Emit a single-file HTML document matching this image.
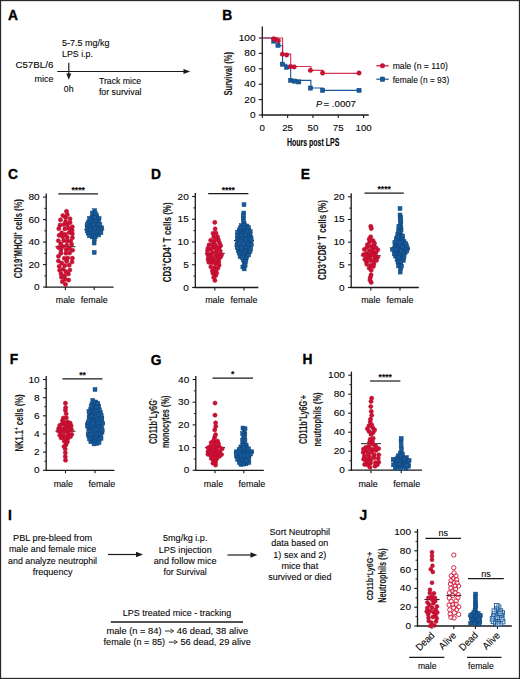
<!DOCTYPE html>
<html><head><meta charset="utf-8"><style>
html,body{margin:0;padding:0;background:#fff;}
svg{display:block;}
text{font-family:"Liberation Sans", sans-serif;stroke:#1a1a1a;stroke-width:0.1px;}
</style></head><body>
<svg width="520" height="679" viewBox="0 0 520 679">
<rect x="0.5" y="0.5" width="519" height="678" fill="none" stroke="#2a2a2a" stroke-width="1.3"/>
<text x="8.00" y="19.60" font-size="13.8" font-weight="bold" fill="#000" style="stroke:#000;stroke-width:0.35px">A</text>
<text x="62.00" y="46.00" font-size="9.2" textLength="47.5" lengthAdjust="spacingAndGlyphs">5-7.5 mg/kg</text>
<text x="62.00" y="57.30" font-size="9.2" textLength="31" lengthAdjust="spacingAndGlyphs">LPS i.p.</text>
<text x="15.40" y="68.00" font-size="9.2" textLength="38" lengthAdjust="spacingAndGlyphs">C57BL/6</text>
<text x="53.50" y="81.80" font-size="9.2" text-anchor="end" textLength="18.9" lengthAdjust="spacingAndGlyphs">mice</text>
<line x1="57.30" y1="71.50" x2="185.50" y2="71.50" stroke="#1a1a1a" stroke-width="1.2"/>
<path d="M183.5 68.9 L190.2 71.5 L183.5 74.1 Z" fill="#1a1a1a"/>
<line x1="68.80" y1="62.70" x2="68.80" y2="75.00" stroke="#1a1a1a" stroke-width="1.2"/>
<path d="M66.3 73.5 L71.3 73.5 L68.8 79.7 Z" fill="#1a1a1a"/>
<text x="63.80" y="91.60" font-size="8.8" textLength="9.7" lengthAdjust="spacingAndGlyphs">0h</text>
<text x="98.90" y="83.60" font-size="9.2" textLength="42.3" lengthAdjust="spacingAndGlyphs">Track mice</text>
<text x="98.90" y="95.10" font-size="9.2" textLength="42.6" lengthAdjust="spacingAndGlyphs">for survival</text>
<text x="222.20" y="20.00" font-size="13.8" font-weight="bold" fill="#000" style="stroke:#000;stroke-width:0.35px">B</text>
<line x1="262.30" y1="26.60" x2="262.30" y2="115.60" stroke="#1a1a1a" stroke-width="1.3"/>
<line x1="261.70" y1="115.00" x2="368.70" y2="115.00" stroke="#1a1a1a" stroke-width="1.3"/>
<line x1="258.80" y1="115.00" x2="262.30" y2="115.00" stroke="#1a1a1a" stroke-width="1.1"/>
<text x="255.50" y="118.00" font-size="8.6" text-anchor="end" textLength="5.6" lengthAdjust="spacingAndGlyphs">0</text>
<line x1="258.80" y1="99.60" x2="262.30" y2="99.60" stroke="#1a1a1a" stroke-width="1.1"/>
<text x="255.50" y="102.60" font-size="8.6" text-anchor="end" textLength="11.2" lengthAdjust="spacingAndGlyphs">20</text>
<line x1="258.80" y1="84.20" x2="262.30" y2="84.20" stroke="#1a1a1a" stroke-width="1.1"/>
<text x="255.50" y="87.20" font-size="8.6" text-anchor="end" textLength="11.2" lengthAdjust="spacingAndGlyphs">40</text>
<line x1="258.80" y1="68.80" x2="262.30" y2="68.80" stroke="#1a1a1a" stroke-width="1.1"/>
<text x="255.50" y="71.80" font-size="8.6" text-anchor="end" textLength="11.2" lengthAdjust="spacingAndGlyphs">60</text>
<line x1="258.80" y1="53.40" x2="262.30" y2="53.40" stroke="#1a1a1a" stroke-width="1.1"/>
<text x="255.50" y="56.40" font-size="8.6" text-anchor="end" textLength="11.2" lengthAdjust="spacingAndGlyphs">80</text>
<line x1="258.80" y1="38.00" x2="262.30" y2="38.00" stroke="#1a1a1a" stroke-width="1.1"/>
<text x="255.50" y="41.00" font-size="8.6" text-anchor="end" textLength="16.799999999999997" lengthAdjust="spacingAndGlyphs">100</text>
<line x1="262.30" y1="115.00" x2="262.30" y2="118.00" stroke="#1a1a1a" stroke-width="1.1"/>
<text x="262.30" y="130.80" font-size="8.6" text-anchor="middle" textLength="5.4" lengthAdjust="spacingAndGlyphs">0</text>
<line x1="287.62" y1="115.00" x2="287.62" y2="118.00" stroke="#1a1a1a" stroke-width="1.1"/>
<text x="287.62" y="130.80" font-size="8.6" text-anchor="middle" textLength="10.8" lengthAdjust="spacingAndGlyphs">25</text>
<line x1="312.95" y1="115.00" x2="312.95" y2="118.00" stroke="#1a1a1a" stroke-width="1.1"/>
<text x="312.95" y="130.80" font-size="8.6" text-anchor="middle" textLength="10.8" lengthAdjust="spacingAndGlyphs">50</text>
<line x1="338.27" y1="115.00" x2="338.27" y2="118.00" stroke="#1a1a1a" stroke-width="1.1"/>
<text x="338.27" y="130.80" font-size="8.6" text-anchor="middle" textLength="10.8" lengthAdjust="spacingAndGlyphs">75</text>
<line x1="363.60" y1="115.00" x2="363.60" y2="118.00" stroke="#1a1a1a" stroke-width="1.1"/>
<text x="363.60" y="130.80" font-size="8.6" text-anchor="middle" textLength="16.200000000000003" lengthAdjust="spacingAndGlyphs">100</text>
<text x="231.60" y="73.80" font-size="11.0" font-weight="bold" text-anchor="middle" textLength="43.5" lengthAdjust="spacingAndGlyphs" transform="rotate(-90 231.60 73.80)" fill="#1a1a1a"><tspan>Survival (%)</tspan></text>
<text x="313.10" y="146.20" font-size="10.0" text-anchor="middle" font-weight="bold" textLength="52.4" lengthAdjust="spacingAndGlyphs">Hours post LPS</text>
<text x="316.00" y="106.90" font-size="9.2" font-style="italic">P</text>
<text x="323.50" y="106.90" font-size="9.2" textLength="32.5" lengthAdjust="spacingAndGlyphs">= .0007</text>
<path d="M262.30 38.00 H274.46 V41.08 H278.51 V45.70 H282.56 V64.18 H286.61 V68.03 H290.66 V80.35 H310.92 V88.05 H323.08 V90.36 H359.55 V90.36" fill="none" stroke="#17599A" stroke-width="1.1"/>
<path d="M262.30 38.00 H282.56 V54.17 H290.66 V66.49 H310.92 V70.34 H323.08 V73.42 H359.55 V73.42" fill="none" stroke="#CF1034" stroke-width="1.1" opacity="0.85"/>
<rect x="271.65" y="38.98" width="4.20" height="4.20" fill="#17599A" stroke="#0F4579" stroke-width="0.5"/>
<rect x="275.90" y="43.21" width="4.20" height="4.20" fill="#17599A" stroke="#0F4579" stroke-width="0.5"/>
<rect x="280.26" y="62.08" width="4.20" height="4.20" fill="#17599A" stroke="#0F4579" stroke-width="0.5"/>
<rect x="284.41" y="65.16" width="4.20" height="4.20" fill="#17599A" stroke="#0F4579" stroke-width="0.5"/>
<rect x="288.46" y="78.25" width="4.20" height="4.20" fill="#17599A" stroke="#0F4579" stroke-width="0.5"/>
<rect x="292.51" y="79.02" width="4.20" height="4.20" fill="#17599A" stroke="#0F4579" stroke-width="0.5"/>
<rect x="296.67" y="79.79" width="4.20" height="4.20" fill="#17599A" stroke="#0F4579" stroke-width="0.5"/>
<rect x="308.32" y="85.95" width="4.20" height="4.20" fill="#17599A" stroke="#0F4579" stroke-width="0.5"/>
<rect x="320.47" y="88.26" width="4.20" height="4.20" fill="#17599A" stroke="#0F4579" stroke-width="0.5"/>
<rect x="356.94" y="88.26" width="4.20" height="4.20" fill="#17599A" stroke="#0F4579" stroke-width="0.5"/>
<circle cx="273.75" cy="38.77" r="2.20" fill="#CF1034" stroke="#AE0C2B" stroke-width="0.5"/>
<circle cx="276.08" cy="39.54" r="2.20" fill="#CF1034" stroke="#AE0C2B" stroke-width="0.5"/>
<circle cx="278.41" cy="40.69" r="2.20" fill="#CF1034" stroke="#AE0C2B" stroke-width="0.5"/>
<circle cx="282.36" cy="54.17" r="2.20" fill="#CF1034" stroke="#AE0C2B" stroke-width="0.5"/>
<circle cx="286.61" cy="54.94" r="2.20" fill="#CF1034" stroke="#AE0C2B" stroke-width="0.5"/>
<circle cx="290.56" cy="66.49" r="2.20" fill="#CF1034" stroke="#AE0C2B" stroke-width="0.5"/>
<circle cx="294.21" cy="66.88" r="2.20" fill="#CF1034" stroke="#AE0C2B" stroke-width="0.5"/>
<circle cx="310.42" cy="70.34" r="2.20" fill="#CF1034" stroke="#AE0C2B" stroke-width="0.5"/>
<circle cx="322.57" cy="73.03" r="2.20" fill="#CF1034" stroke="#AE0C2B" stroke-width="0.5"/>
<circle cx="359.04" cy="73.03" r="2.20" fill="#CF1034" stroke="#AE0C2B" stroke-width="0.5"/>
<line x1="376.30" y1="65.80" x2="388.80" y2="65.80" stroke="#CF1034" stroke-width="1.2"/>
<circle cx="382.50" cy="65.80" r="2.30" fill="#CF1034" stroke="#AE0C2B" stroke-width="0.5"/>
<line x1="376.30" y1="79.20" x2="388.80" y2="79.20" stroke="#17599A" stroke-width="1.2"/>
<rect x="380.30" y="77.00" width="4.40" height="4.40" fill="#17599A" stroke="#0F4579" stroke-width="0.5"/>
<text x="392.70" y="69.20" font-size="9.2" textLength="55.2" lengthAdjust="spacingAndGlyphs">male (n = 110)</text>
<text x="392.70" y="82.60" font-size="9.2" textLength="56.5" lengthAdjust="spacingAndGlyphs">female (n = 93)</text>
<text x="8.00" y="179.10" font-size="13.8" font-weight="bold" fill="#000" style="stroke:#000;stroke-width:0.35px">C</text>
<line x1="46.20" y1="193.60" x2="46.20" y2="287.70" stroke="#1a1a1a" stroke-width="1.3"/>
<line x1="45.60" y1="287.10" x2="113.60" y2="287.10" stroke="#1a1a1a" stroke-width="1.3"/>
<line x1="43.00" y1="287.10" x2="46.20" y2="287.10" stroke="#1a1a1a" stroke-width="1.1"/>
<text x="39.70" y="290.10" font-size="8.6" text-anchor="end" textLength="5.6" lengthAdjust="spacingAndGlyphs">0</text>
<line x1="43.00" y1="264.60" x2="46.20" y2="264.60" stroke="#1a1a1a" stroke-width="1.1"/>
<text x="39.70" y="267.60" font-size="8.6" text-anchor="end" textLength="11.2" lengthAdjust="spacingAndGlyphs">20</text>
<line x1="43.00" y1="242.10" x2="46.20" y2="242.10" stroke="#1a1a1a" stroke-width="1.1"/>
<text x="39.70" y="245.10" font-size="8.6" text-anchor="end" textLength="11.2" lengthAdjust="spacingAndGlyphs">40</text>
<line x1="43.00" y1="219.60" x2="46.20" y2="219.60" stroke="#1a1a1a" stroke-width="1.1"/>
<text x="39.70" y="222.60" font-size="8.6" text-anchor="end" textLength="11.2" lengthAdjust="spacingAndGlyphs">60</text>
<line x1="43.00" y1="197.10" x2="46.20" y2="197.10" stroke="#1a1a1a" stroke-width="1.1"/>
<text x="39.70" y="200.10" font-size="8.6" text-anchor="end" textLength="11.2" lengthAdjust="spacingAndGlyphs">80</text>
<line x1="44.20" y1="275.85" x2="46.20" y2="275.85" stroke="#1a1a1a" stroke-width="0.9"/>
<line x1="44.20" y1="253.35" x2="46.20" y2="253.35" stroke="#1a1a1a" stroke-width="0.9"/>
<line x1="44.20" y1="230.85" x2="46.20" y2="230.85" stroke="#1a1a1a" stroke-width="0.9"/>
<line x1="44.20" y1="208.35" x2="46.20" y2="208.35" stroke="#1a1a1a" stroke-width="0.9"/>
<line x1="65.40" y1="287.10" x2="65.40" y2="290.10" stroke="#1a1a1a" stroke-width="1.1"/>
<line x1="94.20" y1="287.10" x2="94.20" y2="290.10" stroke="#1a1a1a" stroke-width="1.1"/>
<line x1="55.40" y1="246.60" x2="75.40" y2="246.60" stroke="#444" stroke-width="1.2"/>
<line x1="84.20" y1="229.73" x2="104.20" y2="229.73" stroke="#222" stroke-width="1.2"/>
<circle cx="71.57" cy="244.36" r="2.10" fill="#CF1034" stroke="#AE0C2B" stroke-width="0.5"/>
<circle cx="66.67" cy="245.33" r="2.10" fill="#CF1034" stroke="#AE0C2B" stroke-width="0.5"/>
<circle cx="67.30" cy="224.78" r="2.10" fill="#CF1034" stroke="#AE0C2B" stroke-width="0.5"/>
<circle cx="63.09" cy="269.26" r="2.10" fill="#CF1034" stroke="#AE0C2B" stroke-width="0.5"/>
<circle cx="72.01" cy="261.98" r="2.10" fill="#CF1034" stroke="#AE0C2B" stroke-width="0.5"/>
<circle cx="58.47" cy="256.29" r="2.10" fill="#CF1034" stroke="#AE0C2B" stroke-width="0.5"/>
<circle cx="60.93" cy="249.91" r="2.10" fill="#CF1034" stroke="#AE0C2B" stroke-width="0.5"/>
<circle cx="64.87" cy="228.97" r="2.10" fill="#CF1034" stroke="#AE0C2B" stroke-width="0.5"/>
<circle cx="67.71" cy="258.10" r="2.10" fill="#CF1034" stroke="#AE0C2B" stroke-width="0.5"/>
<circle cx="61.77" cy="263.03" r="2.10" fill="#CF1034" stroke="#AE0C2B" stroke-width="0.5"/>
<circle cx="69.29" cy="232.41" r="2.10" fill="#CF1034" stroke="#AE0C2B" stroke-width="0.5"/>
<circle cx="63.74" cy="240.55" r="2.10" fill="#CF1034" stroke="#AE0C2B" stroke-width="0.5"/>
<circle cx="66.48" cy="211.31" r="2.10" fill="#CF1034" stroke="#AE0C2B" stroke-width="0.5"/>
<circle cx="60.50" cy="219.90" r="2.10" fill="#CF1034" stroke="#AE0C2B" stroke-width="0.5"/>
<circle cx="60.01" cy="225.22" r="2.10" fill="#CF1034" stroke="#AE0C2B" stroke-width="0.5"/>
<circle cx="64.27" cy="258.35" r="2.10" fill="#CF1034" stroke="#AE0C2B" stroke-width="0.5"/>
<circle cx="72.28" cy="226.84" r="2.10" fill="#CF1034" stroke="#AE0C2B" stroke-width="0.5"/>
<circle cx="69.85" cy="270.02" r="2.10" fill="#CF1034" stroke="#AE0C2B" stroke-width="0.5"/>
<circle cx="72.37" cy="258.21" r="2.10" fill="#CF1034" stroke="#AE0C2B" stroke-width="0.5"/>
<circle cx="59.17" cy="235.33" r="2.10" fill="#CF1034" stroke="#AE0C2B" stroke-width="0.5"/>
<circle cx="60.85" cy="253.29" r="2.10" fill="#CF1034" stroke="#AE0C2B" stroke-width="0.5"/>
<circle cx="70.04" cy="222.55" r="2.10" fill="#CF1034" stroke="#AE0C2B" stroke-width="0.5"/>
<circle cx="68.70" cy="280.04" r="2.10" fill="#CF1034" stroke="#AE0C2B" stroke-width="0.5"/>
<circle cx="64.65" cy="275.79" r="2.10" fill="#CF1034" stroke="#AE0C2B" stroke-width="0.5"/>
<circle cx="70.01" cy="218.87" r="2.10" fill="#CF1034" stroke="#AE0C2B" stroke-width="0.5"/>
<circle cx="60.69" cy="243.87" r="2.10" fill="#CF1034" stroke="#AE0C2B" stroke-width="0.5"/>
<circle cx="72.42" cy="237.76" r="2.10" fill="#CF1034" stroke="#AE0C2B" stroke-width="0.5"/>
<circle cx="62.77" cy="246.54" r="2.10" fill="#CF1034" stroke="#AE0C2B" stroke-width="0.5"/>
<circle cx="65.52" cy="284.35" r="2.10" fill="#CF1034" stroke="#AE0C2B" stroke-width="0.5"/>
<circle cx="69.17" cy="265.17" r="2.10" fill="#CF1034" stroke="#AE0C2B" stroke-width="0.5"/>
<circle cx="65.35" cy="234.42" r="2.10" fill="#CF1034" stroke="#AE0C2B" stroke-width="0.5"/>
<circle cx="69.59" cy="253.00" r="2.10" fill="#CF1034" stroke="#AE0C2B" stroke-width="0.5"/>
<circle cx="58.79" cy="228.64" r="2.10" fill="#CF1034" stroke="#AE0C2B" stroke-width="0.5"/>
<circle cx="61.03" cy="273.85" r="2.10" fill="#CF1034" stroke="#AE0C2B" stroke-width="0.5"/>
<circle cx="65.64" cy="221.55" r="2.10" fill="#CF1034" stroke="#AE0C2B" stroke-width="0.5"/>
<circle cx="65.59" cy="217.57" r="2.10" fill="#CF1034" stroke="#AE0C2B" stroke-width="0.5"/>
<circle cx="66.27" cy="249.50" r="2.10" fill="#CF1034" stroke="#AE0C2B" stroke-width="0.5"/>
<circle cx="65.92" cy="253.17" r="2.10" fill="#CF1034" stroke="#AE0C2B" stroke-width="0.5"/>
<circle cx="58.36" cy="240.73" r="2.10" fill="#CF1034" stroke="#AE0C2B" stroke-width="0.5"/>
<circle cx="67.21" cy="237.28" r="2.10" fill="#CF1034" stroke="#AE0C2B" stroke-width="0.5"/>
<circle cx="72.61" cy="250.26" r="2.10" fill="#CF1034" stroke="#AE0C2B" stroke-width="0.5"/>
<circle cx="65.18" cy="279.29" r="2.10" fill="#CF1034" stroke="#AE0C2B" stroke-width="0.5"/>
<circle cx="61.68" cy="232.92" r="2.10" fill="#CF1034" stroke="#AE0C2B" stroke-width="0.5"/>
<circle cx="66.67" cy="261.37" r="2.10" fill="#CF1034" stroke="#AE0C2B" stroke-width="0.5"/>
<circle cx="68.41" cy="273.97" r="2.10" fill="#CF1034" stroke="#AE0C2B" stroke-width="0.5"/>
<circle cx="65.88" cy="271.70" r="2.10" fill="#CF1034" stroke="#AE0C2B" stroke-width="0.5"/>
<circle cx="67.32" cy="214.63" r="2.10" fill="#CF1034" stroke="#AE0C2B" stroke-width="0.5"/>
<circle cx="63.84" cy="224.59" r="2.10" fill="#CF1034" stroke="#AE0C2B" stroke-width="0.5"/>
<circle cx="72.36" cy="233.84" r="2.10" fill="#CF1034" stroke="#AE0C2B" stroke-width="0.5"/>
<circle cx="58.43" cy="261.01" r="2.10" fill="#CF1034" stroke="#AE0C2B" stroke-width="0.5"/>
<circle cx="67.32" cy="241.13" r="2.10" fill="#CF1034" stroke="#AE0C2B" stroke-width="0.5"/>
<circle cx="64.74" cy="265.63" r="2.10" fill="#CF1034" stroke="#AE0C2B" stroke-width="0.5"/>
<circle cx="70.71" cy="241.00" r="2.10" fill="#CF1034" stroke="#AE0C2B" stroke-width="0.5"/>
<circle cx="62.36" cy="281.75" r="2.10" fill="#CF1034" stroke="#AE0C2B" stroke-width="0.5"/>
<circle cx="59.20" cy="266.32" r="2.10" fill="#CF1034" stroke="#AE0C2B" stroke-width="0.5"/>
<circle cx="69.62" cy="248.70" r="2.10" fill="#CF1034" stroke="#AE0C2B" stroke-width="0.5"/>
<circle cx="68.65" cy="228.27" r="2.10" fill="#CF1034" stroke="#AE0C2B" stroke-width="0.5"/>
<circle cx="62.89" cy="215.54" r="2.10" fill="#CF1034" stroke="#AE0C2B" stroke-width="0.5"/>
<circle cx="62.66" cy="236.84" r="2.10" fill="#CF1034" stroke="#AE0C2B" stroke-width="0.5"/>
<circle cx="58.45" cy="247.49" r="2.10" fill="#CF1034" stroke="#AE0C2B" stroke-width="0.5"/>
<circle cx="59.73" cy="270.34" r="2.10" fill="#CF1034" stroke="#AE0C2B" stroke-width="0.5"/>
<circle cx="61.46" cy="277.28" r="2.10" fill="#CF1034" stroke="#AE0C2B" stroke-width="0.5"/>
<circle cx="72.08" cy="230.22" r="2.10" fill="#CF1034" stroke="#AE0C2B" stroke-width="0.5"/>
<rect x="92.25" y="250.50" width="3.90" height="3.90" fill="#17599A" stroke="#0F4579" stroke-width="0.5"/>
<rect x="94.77" y="224.64" width="3.90" height="3.90" fill="#17599A" stroke="#0F4579" stroke-width="0.5"/>
<rect x="91.51" y="213.06" width="3.90" height="3.90" fill="#17599A" stroke="#0F4579" stroke-width="0.5"/>
<rect x="92.95" y="232.17" width="3.90" height="3.90" fill="#17599A" stroke="#0F4579" stroke-width="0.5"/>
<rect x="96.60" y="219.84" width="3.90" height="3.90" fill="#17599A" stroke="#0F4579" stroke-width="0.5"/>
<rect x="92.70" y="208.74" width="3.90" height="3.90" fill="#17599A" stroke="#0F4579" stroke-width="0.5"/>
<rect x="99.80" y="225.84" width="3.90" height="3.90" fill="#17599A" stroke="#0F4579" stroke-width="0.5"/>
<rect x="92.18" y="241.10" width="3.90" height="3.90" fill="#17599A" stroke="#0F4579" stroke-width="0.5"/>
<rect x="93.58" y="222.06" width="3.90" height="3.90" fill="#17599A" stroke="#0F4579" stroke-width="0.5"/>
<rect x="85.12" y="224.71" width="3.90" height="3.90" fill="#17599A" stroke="#0F4579" stroke-width="0.5"/>
<rect x="88.83" y="231.59" width="3.90" height="3.90" fill="#17599A" stroke="#0F4579" stroke-width="0.5"/>
<rect x="97.28" y="225.53" width="3.90" height="3.90" fill="#17599A" stroke="#0F4579" stroke-width="0.5"/>
<rect x="88.26" y="223.09" width="3.90" height="3.90" fill="#17599A" stroke="#0F4579" stroke-width="0.5"/>
<rect x="86.50" y="220.09" width="3.90" height="3.90" fill="#17599A" stroke="#0F4579" stroke-width="0.5"/>
<rect x="91.96" y="224.70" width="3.90" height="3.90" fill="#17599A" stroke="#0F4579" stroke-width="0.5"/>
<rect x="90.27" y="234.96" width="3.90" height="3.90" fill="#17599A" stroke="#0F4579" stroke-width="0.5"/>
<rect x="89.49" y="225.65" width="3.90" height="3.90" fill="#17599A" stroke="#0F4579" stroke-width="0.5"/>
<rect x="94.76" y="213.74" width="3.90" height="3.90" fill="#17599A" stroke="#0F4579" stroke-width="0.5"/>
<rect x="90.05" y="215.55" width="3.90" height="3.90" fill="#17599A" stroke="#0F4579" stroke-width="0.5"/>
<rect x="97.13" y="216.50" width="3.90" height="3.90" fill="#17599A" stroke="#0F4579" stroke-width="0.5"/>
<rect x="98.49" y="227.62" width="3.90" height="3.90" fill="#17599A" stroke="#0F4579" stroke-width="0.5"/>
<rect x="97.92" y="222.65" width="3.90" height="3.90" fill="#17599A" stroke="#0F4579" stroke-width="0.5"/>
<rect x="95.36" y="227.73" width="3.90" height="3.90" fill="#17599A" stroke="#0F4579" stroke-width="0.5"/>
<rect x="90.04" y="219.99" width="3.90" height="3.90" fill="#17599A" stroke="#0F4579" stroke-width="0.5"/>
<rect x="91.46" y="217.84" width="3.90" height="3.90" fill="#17599A" stroke="#0F4579" stroke-width="0.5"/>
<rect x="92.42" y="237.09" width="3.90" height="3.90" fill="#17599A" stroke="#0F4579" stroke-width="0.5"/>
<rect x="93.67" y="234.64" width="3.90" height="3.90" fill="#17599A" stroke="#0F4579" stroke-width="0.5"/>
<rect x="88.46" y="218.43" width="3.90" height="3.90" fill="#17599A" stroke="#0F4579" stroke-width="0.5"/>
<rect x="92.67" y="226.79" width="3.90" height="3.90" fill="#17599A" stroke="#0F4579" stroke-width="0.5"/>
<rect x="94.12" y="230.25" width="3.90" height="3.90" fill="#17599A" stroke="#0F4579" stroke-width="0.5"/>
<rect x="96.79" y="233.02" width="3.90" height="3.90" fill="#17599A" stroke="#0F4579" stroke-width="0.5"/>
<rect x="90.51" y="211.03" width="3.90" height="3.90" fill="#17599A" stroke="#0F4579" stroke-width="0.5"/>
<rect x="94.20" y="216.79" width="3.90" height="3.90" fill="#17599A" stroke="#0F4579" stroke-width="0.5"/>
<rect x="85.25" y="229.02" width="3.90" height="3.90" fill="#17599A" stroke="#0F4579" stroke-width="0.5"/>
<rect x="87.16" y="225.61" width="3.90" height="3.90" fill="#17599A" stroke="#0F4579" stroke-width="0.5"/>
<rect x="93.54" y="211.62" width="3.90" height="3.90" fill="#17599A" stroke="#0F4579" stroke-width="0.5"/>
<rect x="90.20" y="229.58" width="3.90" height="3.90" fill="#17599A" stroke="#0F4579" stroke-width="0.5"/>
<rect x="97.03" y="229.62" width="3.90" height="3.90" fill="#17599A" stroke="#0F4579" stroke-width="0.5"/>
<rect x="86.22" y="231.44" width="3.90" height="3.90" fill="#17599A" stroke="#0F4579" stroke-width="0.5"/>
<rect x="93.25" y="219.51" width="3.90" height="3.90" fill="#17599A" stroke="#0F4579" stroke-width="0.5"/>
<rect x="88.36" y="227.66" width="3.90" height="3.90" fill="#17599A" stroke="#0F4579" stroke-width="0.5"/>
<rect x="91.35" y="222.40" width="3.90" height="3.90" fill="#17599A" stroke="#0F4579" stroke-width="0.5"/>
<rect x="85.35" y="222.18" width="3.90" height="3.90" fill="#17599A" stroke="#0F4579" stroke-width="0.5"/>
<rect x="87.56" y="233.86" width="3.90" height="3.90" fill="#17599A" stroke="#0F4579" stroke-width="0.5"/>
<rect x="99.01" y="230.81" width="3.90" height="3.90" fill="#17599A" stroke="#0F4579" stroke-width="0.5"/>
<rect x="87.63" y="216.38" width="3.90" height="3.90" fill="#17599A" stroke="#0F4579" stroke-width="0.5"/>
<rect x="92.62" y="215.24" width="3.90" height="3.90" fill="#17599A" stroke="#0F4579" stroke-width="0.5"/>
<text x="65.40" y="303.00" font-size="9.2" text-anchor="middle" textLength="19.3" lengthAdjust="spacingAndGlyphs">male</text>
<text x="94.20" y="303.00" font-size="9.2" text-anchor="middle" textLength="26.8" lengthAdjust="spacingAndGlyphs">female</text>
<line x1="58.30" y1="193.80" x2="98.00" y2="193.80" stroke="#1a1a1a" stroke-width="1.2"/>
<text x="78.15" y="193.00" font-size="8.5" text-anchor="middle" font-weight="bold">****</text>
<text x="21.60" y="238.70" font-size="11.0" font-weight="bold" text-anchor="middle" textLength="79" lengthAdjust="spacingAndGlyphs" transform="rotate(-90 21.60 238.70)" fill="#1a1a1a"><tspan>CD19</tspan><tspan font-size="6.60" dy="-3.96">+</tspan><tspan dy="3.96">MHCII</tspan><tspan font-size="6.60" dy="-3.96">+</tspan><tspan dy="3.96"> cells (%)</tspan></text>
<text x="151.00" y="178.90" font-size="13.8" font-weight="bold" fill="#000" style="stroke:#000;stroke-width:0.35px">D</text>
<line x1="195.30" y1="193.00" x2="195.30" y2="288.10" stroke="#1a1a1a" stroke-width="1.3"/>
<line x1="194.70" y1="287.50" x2="258.30" y2="287.50" stroke="#1a1a1a" stroke-width="1.3"/>
<line x1="192.10" y1="287.50" x2="195.30" y2="287.50" stroke="#1a1a1a" stroke-width="1.1"/>
<text x="188.80" y="290.50" font-size="8.6" text-anchor="end" textLength="5.6" lengthAdjust="spacingAndGlyphs">0</text>
<line x1="192.10" y1="264.75" x2="195.30" y2="264.75" stroke="#1a1a1a" stroke-width="1.1"/>
<text x="188.80" y="267.75" font-size="8.6" text-anchor="end" textLength="5.6" lengthAdjust="spacingAndGlyphs">5</text>
<line x1="192.10" y1="242.00" x2="195.30" y2="242.00" stroke="#1a1a1a" stroke-width="1.1"/>
<text x="188.80" y="245.00" font-size="8.6" text-anchor="end" textLength="11.2" lengthAdjust="spacingAndGlyphs">10</text>
<line x1="192.10" y1="219.25" x2="195.30" y2="219.25" stroke="#1a1a1a" stroke-width="1.1"/>
<text x="188.80" y="222.25" font-size="8.6" text-anchor="end" textLength="11.2" lengthAdjust="spacingAndGlyphs">15</text>
<line x1="192.10" y1="196.50" x2="195.30" y2="196.50" stroke="#1a1a1a" stroke-width="1.1"/>
<text x="188.80" y="199.50" font-size="8.6" text-anchor="end" textLength="11.2" lengthAdjust="spacingAndGlyphs">20</text>
<line x1="193.30" y1="276.12" x2="195.30" y2="276.12" stroke="#1a1a1a" stroke-width="0.9"/>
<line x1="193.30" y1="253.38" x2="195.30" y2="253.38" stroke="#1a1a1a" stroke-width="0.9"/>
<line x1="193.30" y1="230.62" x2="195.30" y2="230.62" stroke="#1a1a1a" stroke-width="0.9"/>
<line x1="193.30" y1="207.88" x2="195.30" y2="207.88" stroke="#1a1a1a" stroke-width="0.9"/>
<line x1="214.80" y1="287.50" x2="214.80" y2="290.50" stroke="#1a1a1a" stroke-width="1.1"/>
<line x1="244.00" y1="287.50" x2="244.00" y2="290.50" stroke="#1a1a1a" stroke-width="1.1"/>
<line x1="204.80" y1="253.38" x2="224.80" y2="253.38" stroke="#444" stroke-width="1.2"/>
<line x1="234.00" y1="240.63" x2="254.00" y2="240.63" stroke="#222" stroke-width="1.2"/>
<circle cx="214.80" cy="222.44" r="2.10" fill="#CF1034" stroke="#AE0C2B" stroke-width="0.5"/>
<circle cx="211.45" cy="262.69" r="2.10" fill="#CF1034" stroke="#AE0C2B" stroke-width="0.5"/>
<circle cx="210.87" cy="255.89" r="2.10" fill="#CF1034" stroke="#AE0C2B" stroke-width="0.5"/>
<circle cx="218.74" cy="259.93" r="2.10" fill="#CF1034" stroke="#AE0C2B" stroke-width="0.5"/>
<circle cx="210.69" cy="240.33" r="2.10" fill="#CF1034" stroke="#AE0C2B" stroke-width="0.5"/>
<circle cx="221.59" cy="255.06" r="2.10" fill="#CF1034" stroke="#AE0C2B" stroke-width="0.5"/>
<circle cx="219.13" cy="247.89" r="2.10" fill="#CF1034" stroke="#AE0C2B" stroke-width="0.5"/>
<circle cx="212.38" cy="252.59" r="2.10" fill="#CF1034" stroke="#AE0C2B" stroke-width="0.5"/>
<circle cx="207.80" cy="254.35" r="2.10" fill="#CF1034" stroke="#AE0C2B" stroke-width="0.5"/>
<circle cx="215.70" cy="275.51" r="2.10" fill="#CF1034" stroke="#AE0C2B" stroke-width="0.5"/>
<circle cx="214.62" cy="267.95" r="2.10" fill="#CF1034" stroke="#AE0C2B" stroke-width="0.5"/>
<circle cx="213.26" cy="247.71" r="2.10" fill="#CF1034" stroke="#AE0C2B" stroke-width="0.5"/>
<circle cx="215.11" cy="228.93" r="2.10" fill="#CF1034" stroke="#AE0C2B" stroke-width="0.5"/>
<circle cx="218.54" cy="254.73" r="2.10" fill="#CF1034" stroke="#AE0C2B" stroke-width="0.5"/>
<circle cx="217.58" cy="236.88" r="2.10" fill="#CF1034" stroke="#AE0C2B" stroke-width="0.5"/>
<circle cx="215.99" cy="233.17" r="2.10" fill="#CF1034" stroke="#AE0C2B" stroke-width="0.5"/>
<circle cx="215.81" cy="270.57" r="2.10" fill="#CF1034" stroke="#AE0C2B" stroke-width="0.5"/>
<circle cx="214.01" cy="241.76" r="2.10" fill="#CF1034" stroke="#AE0C2B" stroke-width="0.5"/>
<circle cx="213.74" cy="236.91" r="2.10" fill="#CF1034" stroke="#AE0C2B" stroke-width="0.5"/>
<circle cx="220.25" cy="251.09" r="2.10" fill="#CF1034" stroke="#AE0C2B" stroke-width="0.5"/>
<circle cx="212.21" cy="244.54" r="2.10" fill="#CF1034" stroke="#AE0C2B" stroke-width="0.5"/>
<circle cx="214.94" cy="280.40" r="2.10" fill="#CF1034" stroke="#AE0C2B" stroke-width="0.5"/>
<circle cx="213.53" cy="259.88" r="2.10" fill="#CF1034" stroke="#AE0C2B" stroke-width="0.5"/>
<circle cx="215.23" cy="263.82" r="2.10" fill="#CF1034" stroke="#AE0C2B" stroke-width="0.5"/>
<circle cx="210.83" cy="266.85" r="2.10" fill="#CF1034" stroke="#AE0C2B" stroke-width="0.5"/>
<circle cx="215.10" cy="244.66" r="2.10" fill="#CF1034" stroke="#AE0C2B" stroke-width="0.5"/>
<circle cx="213.10" cy="233.41" r="2.10" fill="#CF1034" stroke="#AE0C2B" stroke-width="0.5"/>
<circle cx="210.86" cy="249.06" r="2.10" fill="#CF1034" stroke="#AE0C2B" stroke-width="0.5"/>
<circle cx="219.00" cy="265.35" r="2.10" fill="#CF1034" stroke="#AE0C2B" stroke-width="0.5"/>
<circle cx="219.43" cy="242.84" r="2.10" fill="#CF1034" stroke="#AE0C2B" stroke-width="0.5"/>
<circle cx="217.60" cy="257.34" r="2.10" fill="#CF1034" stroke="#AE0C2B" stroke-width="0.5"/>
<circle cx="212.97" cy="273.36" r="2.10" fill="#CF1034" stroke="#AE0C2B" stroke-width="0.5"/>
<circle cx="216.48" cy="246.99" r="2.10" fill="#CF1034" stroke="#AE0C2B" stroke-width="0.5"/>
<circle cx="215.01" cy="256.47" r="2.10" fill="#CF1034" stroke="#AE0C2B" stroke-width="0.5"/>
<circle cx="207.90" cy="248.36" r="2.10" fill="#CF1034" stroke="#AE0C2B" stroke-width="0.5"/>
<circle cx="218.72" cy="262.62" r="2.10" fill="#CF1034" stroke="#AE0C2B" stroke-width="0.5"/>
<circle cx="216.13" cy="252.69" r="2.10" fill="#CF1034" stroke="#AE0C2B" stroke-width="0.5"/>
<circle cx="207.51" cy="251.06" r="2.10" fill="#CF1034" stroke="#AE0C2B" stroke-width="0.5"/>
<circle cx="220.63" cy="245.63" r="2.10" fill="#CF1034" stroke="#AE0C2B" stroke-width="0.5"/>
<circle cx="218.39" cy="239.93" r="2.10" fill="#CF1034" stroke="#AE0C2B" stroke-width="0.5"/>
<circle cx="209.01" cy="244.90" r="2.10" fill="#CF1034" stroke="#AE0C2B" stroke-width="0.5"/>
<circle cx="220.30" cy="257.36" r="2.10" fill="#CF1034" stroke="#AE0C2B" stroke-width="0.5"/>
<circle cx="208.12" cy="259.65" r="2.10" fill="#CF1034" stroke="#AE0C2B" stroke-width="0.5"/>
<circle cx="213.69" cy="277.42" r="2.10" fill="#CF1034" stroke="#AE0C2B" stroke-width="0.5"/>
<circle cx="215.78" cy="239.79" r="2.10" fill="#CF1034" stroke="#AE0C2B" stroke-width="0.5"/>
<circle cx="217.95" cy="268.12" r="2.10" fill="#CF1034" stroke="#AE0C2B" stroke-width="0.5"/>
<circle cx="216.34" cy="249.64" r="2.10" fill="#CF1034" stroke="#AE0C2B" stroke-width="0.5"/>
<circle cx="210.85" cy="258.96" r="2.10" fill="#CF1034" stroke="#AE0C2B" stroke-width="0.5"/>
<circle cx="215.88" cy="261.26" r="2.10" fill="#CF1034" stroke="#AE0C2B" stroke-width="0.5"/>
<circle cx="208.79" cy="262.29" r="2.10" fill="#CF1034" stroke="#AE0C2B" stroke-width="0.5"/>
<circle cx="212.34" cy="270.72" r="2.10" fill="#CF1034" stroke="#AE0C2B" stroke-width="0.5"/>
<circle cx="208.41" cy="256.93" r="2.10" fill="#CF1034" stroke="#AE0C2B" stroke-width="0.5"/>
<circle cx="216.71" cy="273.09" r="2.10" fill="#CF1034" stroke="#AE0C2B" stroke-width="0.5"/>
<rect x="242.05" y="202.74" width="3.90" height="3.90" fill="#17599A" stroke="#0F4579" stroke-width="0.5"/>
<rect x="240.91" y="264.97" width="3.90" height="3.90" fill="#17599A" stroke="#0F4579" stroke-width="0.5"/>
<rect x="238.33" y="230.13" width="3.90" height="3.90" fill="#17599A" stroke="#0F4579" stroke-width="0.5"/>
<rect x="246.32" y="250.75" width="3.90" height="3.90" fill="#17599A" stroke="#0F4579" stroke-width="0.5"/>
<rect x="237.62" y="244.01" width="3.90" height="3.90" fill="#17599A" stroke="#0F4579" stroke-width="0.5"/>
<rect x="239.23" y="250.20" width="3.90" height="3.90" fill="#17599A" stroke="#0F4579" stroke-width="0.5"/>
<rect x="246.33" y="247.49" width="3.90" height="3.90" fill="#17599A" stroke="#0F4579" stroke-width="0.5"/>
<rect x="236.26" y="248.44" width="3.90" height="3.90" fill="#17599A" stroke="#0F4579" stroke-width="0.5"/>
<rect x="248.59" y="240.72" width="3.90" height="3.90" fill="#17599A" stroke="#0F4579" stroke-width="0.5"/>
<rect x="240.65" y="239.27" width="3.90" height="3.90" fill="#17599A" stroke="#0F4579" stroke-width="0.5"/>
<rect x="243.09" y="227.95" width="3.90" height="3.90" fill="#17599A" stroke="#0F4579" stroke-width="0.5"/>
<rect x="242.47" y="235.13" width="3.90" height="3.90" fill="#17599A" stroke="#0F4579" stroke-width="0.5"/>
<rect x="240.69" y="230.71" width="3.90" height="3.90" fill="#17599A" stroke="#0F4579" stroke-width="0.5"/>
<rect x="235.79" y="239.59" width="3.90" height="3.90" fill="#17599A" stroke="#0F4579" stroke-width="0.5"/>
<rect x="242.22" y="261.41" width="3.90" height="3.90" fill="#17599A" stroke="#0F4579" stroke-width="0.5"/>
<rect x="242.17" y="221.35" width="3.90" height="3.90" fill="#17599A" stroke="#0F4579" stroke-width="0.5"/>
<rect x="244.19" y="252.77" width="3.90" height="3.90" fill="#17599A" stroke="#0F4579" stroke-width="0.5"/>
<rect x="237.63" y="246.57" width="3.90" height="3.90" fill="#17599A" stroke="#0F4579" stroke-width="0.5"/>
<rect x="241.45" y="257.92" width="3.90" height="3.90" fill="#17599A" stroke="#0F4579" stroke-width="0.5"/>
<rect x="245.88" y="238.34" width="3.90" height="3.90" fill="#17599A" stroke="#0F4579" stroke-width="0.5"/>
<rect x="239.37" y="223.60" width="3.90" height="3.90" fill="#17599A" stroke="#0F4579" stroke-width="0.5"/>
<rect x="242.03" y="247.21" width="3.90" height="3.90" fill="#17599A" stroke="#0F4579" stroke-width="0.5"/>
<rect x="241.86" y="244.81" width="3.90" height="3.90" fill="#17599A" stroke="#0F4579" stroke-width="0.5"/>
<rect x="245.83" y="233.55" width="3.90" height="3.90" fill="#17599A" stroke="#0F4579" stroke-width="0.5"/>
<rect x="237.70" y="232.47" width="3.90" height="3.90" fill="#17599A" stroke="#0F4579" stroke-width="0.5"/>
<rect x="241.38" y="216.08" width="3.90" height="3.90" fill="#17599A" stroke="#0F4579" stroke-width="0.5"/>
<rect x="244.95" y="224.04" width="3.90" height="3.90" fill="#17599A" stroke="#0F4579" stroke-width="0.5"/>
<rect x="239.88" y="227.44" width="3.90" height="3.90" fill="#17599A" stroke="#0F4579" stroke-width="0.5"/>
<rect x="246.77" y="227.92" width="3.90" height="3.90" fill="#17599A" stroke="#0F4579" stroke-width="0.5"/>
<rect x="243.23" y="232.13" width="3.90" height="3.90" fill="#17599A" stroke="#0F4579" stroke-width="0.5"/>
<rect x="235.28" y="236.58" width="3.90" height="3.90" fill="#17599A" stroke="#0F4579" stroke-width="0.5"/>
<rect x="241.79" y="211.05" width="3.90" height="3.90" fill="#17599A" stroke="#0F4579" stroke-width="0.5"/>
<rect x="237.83" y="236.25" width="3.90" height="3.90" fill="#17599A" stroke="#0F4579" stroke-width="0.5"/>
<rect x="244.06" y="257.28" width="3.90" height="3.90" fill="#17599A" stroke="#0F4579" stroke-width="0.5"/>
<rect x="242.27" y="254.99" width="3.90" height="3.90" fill="#17599A" stroke="#0F4579" stroke-width="0.5"/>
<rect x="243.32" y="249.26" width="3.90" height="3.90" fill="#17599A" stroke="#0F4579" stroke-width="0.5"/>
<rect x="237.35" y="227.99" width="3.90" height="3.90" fill="#17599A" stroke="#0F4579" stroke-width="0.5"/>
<rect x="241.47" y="213.35" width="3.90" height="3.90" fill="#17599A" stroke="#0F4579" stroke-width="0.5"/>
<rect x="245.25" y="229.55" width="3.90" height="3.90" fill="#17599A" stroke="#0F4579" stroke-width="0.5"/>
<rect x="239.79" y="233.65" width="3.90" height="3.90" fill="#17599A" stroke="#0F4579" stroke-width="0.5"/>
<rect x="244.75" y="244.37" width="3.90" height="3.90" fill="#17599A" stroke="#0F4579" stroke-width="0.5"/>
<rect x="247.15" y="244.51" width="3.90" height="3.90" fill="#17599A" stroke="#0F4579" stroke-width="0.5"/>
<rect x="248.08" y="249.37" width="3.90" height="3.90" fill="#17599A" stroke="#0F4579" stroke-width="0.5"/>
<rect x="234.98" y="242.89" width="3.90" height="3.90" fill="#17599A" stroke="#0F4579" stroke-width="0.5"/>
<rect x="235.56" y="233.51" width="3.90" height="3.90" fill="#17599A" stroke="#0F4579" stroke-width="0.5"/>
<rect x="243.57" y="259.52" width="3.90" height="3.90" fill="#17599A" stroke="#0F4579" stroke-width="0.5"/>
<rect x="237.96" y="241.46" width="3.90" height="3.90" fill="#17599A" stroke="#0F4579" stroke-width="0.5"/>
<rect x="241.47" y="251.15" width="3.90" height="3.90" fill="#17599A" stroke="#0F4579" stroke-width="0.5"/>
<rect x="244.29" y="240.66" width="3.90" height="3.90" fill="#17599A" stroke="#0F4579" stroke-width="0.5"/>
<rect x="238.12" y="254.53" width="3.90" height="3.90" fill="#17599A" stroke="#0F4579" stroke-width="0.5"/>
<rect x="244.64" y="255.15" width="3.90" height="3.90" fill="#17599A" stroke="#0F4579" stroke-width="0.5"/>
<rect x="248.08" y="232.49" width="3.90" height="3.90" fill="#17599A" stroke="#0F4579" stroke-width="0.5"/>
<rect x="242.24" y="266.97" width="3.90" height="3.90" fill="#17599A" stroke="#0F4579" stroke-width="0.5"/>
<rect x="246.52" y="225.58" width="3.90" height="3.90" fill="#17599A" stroke="#0F4579" stroke-width="0.5"/>
<rect x="235.67" y="230.15" width="3.90" height="3.90" fill="#17599A" stroke="#0F4579" stroke-width="0.5"/>
<rect x="243.19" y="263.48" width="3.90" height="3.90" fill="#17599A" stroke="#0F4579" stroke-width="0.5"/>
<rect x="246.86" y="242.28" width="3.90" height="3.90" fill="#17599A" stroke="#0F4579" stroke-width="0.5"/>
<rect x="248.99" y="235.27" width="3.90" height="3.90" fill="#17599A" stroke="#0F4579" stroke-width="0.5"/>
<rect x="235.19" y="245.68" width="3.90" height="3.90" fill="#17599A" stroke="#0F4579" stroke-width="0.5"/>
<rect x="241.35" y="241.69" width="3.90" height="3.90" fill="#17599A" stroke="#0F4579" stroke-width="0.5"/>
<rect x="240.58" y="253.55" width="3.90" height="3.90" fill="#17599A" stroke="#0F4579" stroke-width="0.5"/>
<rect x="240.11" y="255.78" width="3.90" height="3.90" fill="#17599A" stroke="#0F4579" stroke-width="0.5"/>
<rect x="242.45" y="223.66" width="3.90" height="3.90" fill="#17599A" stroke="#0F4579" stroke-width="0.5"/>
<rect x="239.96" y="248.07" width="3.90" height="3.90" fill="#17599A" stroke="#0F4579" stroke-width="0.5"/>
<rect x="238.27" y="225.91" width="3.90" height="3.90" fill="#17599A" stroke="#0F4579" stroke-width="0.5"/>
<rect x="241.89" y="225.90" width="3.90" height="3.90" fill="#17599A" stroke="#0F4579" stroke-width="0.5"/>
<rect x="240.40" y="236.26" width="3.90" height="3.90" fill="#17599A" stroke="#0F4579" stroke-width="0.5"/>
<rect x="241.43" y="219.08" width="3.90" height="3.90" fill="#17599A" stroke="#0F4579" stroke-width="0.5"/>
<rect x="246.84" y="236.35" width="3.90" height="3.90" fill="#17599A" stroke="#0F4579" stroke-width="0.5"/>
<rect x="238.28" y="238.72" width="3.90" height="3.90" fill="#17599A" stroke="#0F4579" stroke-width="0.5"/>
<rect x="246.61" y="253.06" width="3.90" height="3.90" fill="#17599A" stroke="#0F4579" stroke-width="0.5"/>
<rect x="249.23" y="237.78" width="3.90" height="3.90" fill="#17599A" stroke="#0F4579" stroke-width="0.5"/>
<rect x="248.30" y="229.70" width="3.90" height="3.90" fill="#17599A" stroke="#0F4579" stroke-width="0.5"/>
<rect x="243.60" y="237.34" width="3.90" height="3.90" fill="#17599A" stroke="#0F4579" stroke-width="0.5"/>
<rect x="239.70" y="245.46" width="3.90" height="3.90" fill="#17599A" stroke="#0F4579" stroke-width="0.5"/>
<rect x="248.69" y="246.92" width="3.90" height="3.90" fill="#17599A" stroke="#0F4579" stroke-width="0.5"/>
<rect x="237.17" y="251.10" width="3.90" height="3.90" fill="#17599A" stroke="#0F4579" stroke-width="0.5"/>
<rect x="249.38" y="242.79" width="3.90" height="3.90" fill="#17599A" stroke="#0F4579" stroke-width="0.5"/>
<text x="214.80" y="302.80" font-size="9.2" text-anchor="middle" textLength="19.3" lengthAdjust="spacingAndGlyphs">male</text>
<text x="244.00" y="302.80" font-size="9.2" text-anchor="middle" textLength="26.8" lengthAdjust="spacingAndGlyphs">female</text>
<line x1="208.20" y1="193.60" x2="248.40" y2="193.60" stroke="#1a1a1a" stroke-width="1.2"/>
<text x="228.30" y="192.80" font-size="8.5" text-anchor="middle" font-weight="bold">****</text>
<text x="170.80" y="242.30" font-size="11.0" font-weight="bold" text-anchor="middle" textLength="80" lengthAdjust="spacingAndGlyphs" transform="rotate(-90 170.80 242.30)" fill="#1a1a1a"><tspan>CD3</tspan><tspan font-size="6.60" dy="-3.96">+</tspan><tspan dy="3.96">CD4</tspan><tspan font-size="6.60" dy="-3.96">+</tspan><tspan dy="3.96"> T cells (%)</tspan></text>
<text x="300.80" y="179.10" font-size="13.8" font-weight="bold" fill="#000" style="stroke:#000;stroke-width:0.35px">E</text>
<line x1="351.20" y1="193.30" x2="351.20" y2="288.10" stroke="#1a1a1a" stroke-width="1.3"/>
<line x1="350.60" y1="287.50" x2="418.80" y2="287.50" stroke="#1a1a1a" stroke-width="1.3"/>
<line x1="348.00" y1="287.50" x2="351.20" y2="287.50" stroke="#1a1a1a" stroke-width="1.1"/>
<text x="344.70" y="290.50" font-size="8.6" text-anchor="end" textLength="5.6" lengthAdjust="spacingAndGlyphs">0</text>
<line x1="348.00" y1="264.82" x2="351.20" y2="264.82" stroke="#1a1a1a" stroke-width="1.1"/>
<text x="344.70" y="267.82" font-size="8.6" text-anchor="end" textLength="5.6" lengthAdjust="spacingAndGlyphs">5</text>
<line x1="348.00" y1="242.15" x2="351.20" y2="242.15" stroke="#1a1a1a" stroke-width="1.1"/>
<text x="344.70" y="245.15" font-size="8.6" text-anchor="end" textLength="11.2" lengthAdjust="spacingAndGlyphs">10</text>
<line x1="348.00" y1="219.47" x2="351.20" y2="219.47" stroke="#1a1a1a" stroke-width="1.1"/>
<text x="344.70" y="222.47" font-size="8.6" text-anchor="end" textLength="11.2" lengthAdjust="spacingAndGlyphs">15</text>
<line x1="348.00" y1="196.80" x2="351.20" y2="196.80" stroke="#1a1a1a" stroke-width="1.1"/>
<text x="344.70" y="199.80" font-size="8.6" text-anchor="end" textLength="11.2" lengthAdjust="spacingAndGlyphs">20</text>
<line x1="349.20" y1="276.16" x2="351.20" y2="276.16" stroke="#1a1a1a" stroke-width="0.9"/>
<line x1="349.20" y1="253.49" x2="351.20" y2="253.49" stroke="#1a1a1a" stroke-width="0.9"/>
<line x1="349.20" y1="230.81" x2="351.20" y2="230.81" stroke="#1a1a1a" stroke-width="0.9"/>
<line x1="349.20" y1="208.14" x2="351.20" y2="208.14" stroke="#1a1a1a" stroke-width="0.9"/>
<line x1="370.80" y1="287.50" x2="370.80" y2="290.50" stroke="#1a1a1a" stroke-width="1.1"/>
<line x1="400.00" y1="287.50" x2="400.00" y2="290.50" stroke="#1a1a1a" stroke-width="1.1"/>
<line x1="360.80" y1="255.75" x2="380.80" y2="255.75" stroke="#444" stroke-width="1.2"/>
<line x1="390.00" y1="248.95" x2="410.00" y2="248.95" stroke="#222" stroke-width="1.2"/>
<circle cx="370.80" cy="226.28" r="2.10" fill="#CF1034" stroke="#AE0C2B" stroke-width="0.5"/>
<circle cx="371.30" cy="228.55" r="2.10" fill="#CF1034" stroke="#AE0C2B" stroke-width="0.5"/>
<circle cx="370.67" cy="236.83" r="2.10" fill="#CF1034" stroke="#AE0C2B" stroke-width="0.5"/>
<circle cx="369.22" cy="268.20" r="2.10" fill="#CF1034" stroke="#AE0C2B" stroke-width="0.5"/>
<circle cx="377.60" cy="257.17" r="2.10" fill="#CF1034" stroke="#AE0C2B" stroke-width="0.5"/>
<circle cx="373.01" cy="240.60" r="2.10" fill="#CF1034" stroke="#AE0C2B" stroke-width="0.5"/>
<circle cx="368.35" cy="255.08" r="2.10" fill="#CF1034" stroke="#AE0C2B" stroke-width="0.5"/>
<circle cx="366.44" cy="253.30" r="2.10" fill="#CF1034" stroke="#AE0C2B" stroke-width="0.5"/>
<circle cx="371.32" cy="246.39" r="2.10" fill="#CF1034" stroke="#AE0C2B" stroke-width="0.5"/>
<circle cx="375.92" cy="252.86" r="2.10" fill="#CF1034" stroke="#AE0C2B" stroke-width="0.5"/>
<circle cx="371.18" cy="282.45" r="2.10" fill="#CF1034" stroke="#AE0C2B" stroke-width="0.5"/>
<circle cx="371.16" cy="270.34" r="2.10" fill="#CF1034" stroke="#AE0C2B" stroke-width="0.5"/>
<circle cx="373.09" cy="251.87" r="2.10" fill="#CF1034" stroke="#AE0C2B" stroke-width="0.5"/>
<circle cx="366.28" cy="261.75" r="2.10" fill="#CF1034" stroke="#AE0C2B" stroke-width="0.5"/>
<circle cx="370.05" cy="257.50" r="2.10" fill="#CF1034" stroke="#AE0C2B" stroke-width="0.5"/>
<circle cx="369.77" cy="241.83" r="2.10" fill="#CF1034" stroke="#AE0C2B" stroke-width="0.5"/>
<circle cx="374.62" cy="258.47" r="2.10" fill="#CF1034" stroke="#AE0C2B" stroke-width="0.5"/>
<circle cx="372.35" cy="249.24" r="2.10" fill="#CF1034" stroke="#AE0C2B" stroke-width="0.5"/>
<circle cx="364.43" cy="249.45" r="2.10" fill="#CF1034" stroke="#AE0C2B" stroke-width="0.5"/>
<circle cx="374.14" cy="245.90" r="2.10" fill="#CF1034" stroke="#AE0C2B" stroke-width="0.5"/>
<circle cx="370.33" cy="260.73" r="2.10" fill="#CF1034" stroke="#AE0C2B" stroke-width="0.5"/>
<circle cx="371.05" cy="274.89" r="2.10" fill="#CF1034" stroke="#AE0C2B" stroke-width="0.5"/>
<circle cx="370.80" cy="265.45" r="2.10" fill="#CF1034" stroke="#AE0C2B" stroke-width="0.5"/>
<circle cx="371.60" cy="254.36" r="2.10" fill="#CF1034" stroke="#AE0C2B" stroke-width="0.5"/>
<circle cx="369.39" cy="250.86" r="2.10" fill="#CF1034" stroke="#AE0C2B" stroke-width="0.5"/>
<circle cx="373.93" cy="264.02" r="2.10" fill="#CF1034" stroke="#AE0C2B" stroke-width="0.5"/>
<circle cx="367.44" cy="244.68" r="2.10" fill="#CF1034" stroke="#AE0C2B" stroke-width="0.5"/>
<circle cx="370.33" cy="277.47" r="2.10" fill="#CF1034" stroke="#AE0C2B" stroke-width="0.5"/>
<circle cx="373.31" cy="266.61" r="2.10" fill="#CF1034" stroke="#AE0C2B" stroke-width="0.5"/>
<circle cx="366.87" cy="264.36" r="2.10" fill="#CF1034" stroke="#AE0C2B" stroke-width="0.5"/>
<circle cx="367.16" cy="258.24" r="2.10" fill="#CF1034" stroke="#AE0C2B" stroke-width="0.5"/>
<circle cx="363.50" cy="254.62" r="2.10" fill="#CF1034" stroke="#AE0C2B" stroke-width="0.5"/>
<circle cx="373.92" cy="261.11" r="2.10" fill="#CF1034" stroke="#AE0C2B" stroke-width="0.5"/>
<circle cx="375.97" cy="247.96" r="2.10" fill="#CF1034" stroke="#AE0C2B" stroke-width="0.5"/>
<circle cx="364.79" cy="259.33" r="2.10" fill="#CF1034" stroke="#AE0C2B" stroke-width="0.5"/>
<circle cx="367.08" cy="247.49" r="2.10" fill="#CF1034" stroke="#AE0C2B" stroke-width="0.5"/>
<circle cx="374.10" cy="255.13" r="2.10" fill="#CF1034" stroke="#AE0C2B" stroke-width="0.5"/>
<circle cx="369.94" cy="280.08" r="2.10" fill="#CF1034" stroke="#AE0C2B" stroke-width="0.5"/>
<circle cx="374.42" cy="243.18" r="2.10" fill="#CF1034" stroke="#AE0C2B" stroke-width="0.5"/>
<circle cx="376.49" cy="260.37" r="2.10" fill="#CF1034" stroke="#AE0C2B" stroke-width="0.5"/>
<circle cx="377.81" cy="249.81" r="2.10" fill="#CF1034" stroke="#AE0C2B" stroke-width="0.5"/>
<circle cx="369.23" cy="239.14" r="2.10" fill="#CF1034" stroke="#AE0C2B" stroke-width="0.5"/>
<circle cx="365.84" cy="255.89" r="2.10" fill="#CF1034" stroke="#AE0C2B" stroke-width="0.5"/>
<rect x="398.05" y="206.64" width="3.90" height="3.90" fill="#17599A" stroke="#0F4579" stroke-width="0.5"/>
<rect x="398.05" y="212.99" width="3.90" height="3.90" fill="#17599A" stroke="#0F4579" stroke-width="0.5"/>
<rect x="393.14" y="242.71" width="3.90" height="3.90" fill="#17599A" stroke="#0F4579" stroke-width="0.5"/>
<rect x="398.54" y="222.25" width="3.90" height="3.90" fill="#17599A" stroke="#0F4579" stroke-width="0.5"/>
<rect x="398.97" y="219.77" width="3.90" height="3.90" fill="#17599A" stroke="#0F4579" stroke-width="0.5"/>
<rect x="398.69" y="266.65" width="3.90" height="3.90" fill="#17599A" stroke="#0F4579" stroke-width="0.5"/>
<rect x="398.70" y="256.11" width="3.90" height="3.90" fill="#17599A" stroke="#0F4579" stroke-width="0.5"/>
<rect x="393.63" y="254.11" width="3.90" height="3.90" fill="#17599A" stroke="#0F4579" stroke-width="0.5"/>
<rect x="395.71" y="251.87" width="3.90" height="3.90" fill="#17599A" stroke="#0F4579" stroke-width="0.5"/>
<rect x="394.49" y="236.54" width="3.90" height="3.90" fill="#17599A" stroke="#0F4579" stroke-width="0.5"/>
<rect x="402.19" y="243.47" width="3.90" height="3.90" fill="#17599A" stroke="#0F4579" stroke-width="0.5"/>
<rect x="398.77" y="215.32" width="3.90" height="3.90" fill="#17599A" stroke="#0F4579" stroke-width="0.5"/>
<rect x="401.33" y="258.44" width="3.90" height="3.90" fill="#17599A" stroke="#0F4579" stroke-width="0.5"/>
<rect x="398.94" y="225.36" width="3.90" height="3.90" fill="#17599A" stroke="#0F4579" stroke-width="0.5"/>
<rect x="395.13" y="257.64" width="3.90" height="3.90" fill="#17599A" stroke="#0F4579" stroke-width="0.5"/>
<rect x="402.09" y="239.72" width="3.90" height="3.90" fill="#17599A" stroke="#0F4579" stroke-width="0.5"/>
<rect x="398.12" y="235.46" width="3.90" height="3.90" fill="#17599A" stroke="#0F4579" stroke-width="0.5"/>
<rect x="395.06" y="244.03" width="3.90" height="3.90" fill="#17599A" stroke="#0F4579" stroke-width="0.5"/>
<rect x="397.05" y="226.66" width="3.90" height="3.90" fill="#17599A" stroke="#0F4579" stroke-width="0.5"/>
<rect x="400.80" y="236.90" width="3.90" height="3.90" fill="#17599A" stroke="#0F4579" stroke-width="0.5"/>
<rect x="396.00" y="260.13" width="3.90" height="3.90" fill="#17599A" stroke="#0F4579" stroke-width="0.5"/>
<rect x="398.59" y="246.91" width="3.90" height="3.90" fill="#17599A" stroke="#0F4579" stroke-width="0.5"/>
<rect x="405.45" y="246.66" width="3.90" height="3.90" fill="#17599A" stroke="#0F4579" stroke-width="0.5"/>
<rect x="401.43" y="248.54" width="3.90" height="3.90" fill="#17599A" stroke="#0F4579" stroke-width="0.5"/>
<rect x="398.46" y="230.50" width="3.90" height="3.90" fill="#17599A" stroke="#0F4579" stroke-width="0.5"/>
<rect x="398.87" y="261.78" width="3.90" height="3.90" fill="#17599A" stroke="#0F4579" stroke-width="0.5"/>
<rect x="399.27" y="253.75" width="3.90" height="3.90" fill="#17599A" stroke="#0F4579" stroke-width="0.5"/>
<rect x="393.03" y="249.67" width="3.90" height="3.90" fill="#17599A" stroke="#0F4579" stroke-width="0.5"/>
<rect x="395.21" y="240.94" width="3.90" height="3.90" fill="#17599A" stroke="#0F4579" stroke-width="0.5"/>
<rect x="397.42" y="237.87" width="3.90" height="3.90" fill="#17599A" stroke="#0F4579" stroke-width="0.5"/>
<rect x="397.98" y="233.24" width="3.90" height="3.90" fill="#17599A" stroke="#0F4579" stroke-width="0.5"/>
<rect x="396.64" y="254.15" width="3.90" height="3.90" fill="#17599A" stroke="#0F4579" stroke-width="0.5"/>
<rect x="396.98" y="249.44" width="3.90" height="3.90" fill="#17599A" stroke="#0F4579" stroke-width="0.5"/>
<rect x="396.26" y="246.09" width="3.90" height="3.90" fill="#17599A" stroke="#0F4579" stroke-width="0.5"/>
<rect x="401.48" y="256.17" width="3.90" height="3.90" fill="#17599A" stroke="#0F4579" stroke-width="0.5"/>
<rect x="398.73" y="251.20" width="3.90" height="3.90" fill="#17599A" stroke="#0F4579" stroke-width="0.5"/>
<rect x="403.27" y="250.74" width="3.90" height="3.90" fill="#17599A" stroke="#0F4579" stroke-width="0.5"/>
<rect x="395.89" y="231.98" width="3.90" height="3.90" fill="#17599A" stroke="#0F4579" stroke-width="0.5"/>
<rect x="399.40" y="241.63" width="3.90" height="3.90" fill="#17599A" stroke="#0F4579" stroke-width="0.5"/>
<rect x="398.77" y="259.31" width="3.90" height="3.90" fill="#17599A" stroke="#0F4579" stroke-width="0.5"/>
<rect x="396.55" y="264.01" width="3.90" height="3.90" fill="#17599A" stroke="#0F4579" stroke-width="0.5"/>
<rect x="392.89" y="240.40" width="3.90" height="3.90" fill="#17599A" stroke="#0F4579" stroke-width="0.5"/>
<rect x="392.51" y="246.08" width="3.90" height="3.90" fill="#17599A" stroke="#0F4579" stroke-width="0.5"/>
<rect x="400.67" y="233.97" width="3.90" height="3.90" fill="#17599A" stroke="#0F4579" stroke-width="0.5"/>
<rect x="403.02" y="246.86" width="3.90" height="3.90" fill="#17599A" stroke="#0F4579" stroke-width="0.5"/>
<rect x="398.22" y="270.15" width="3.90" height="3.90" fill="#17599A" stroke="#0F4579" stroke-width="0.5"/>
<rect x="402.16" y="254.05" width="3.90" height="3.90" fill="#17599A" stroke="#0F4579" stroke-width="0.5"/>
<rect x="398.43" y="243.68" width="3.90" height="3.90" fill="#17599A" stroke="#0F4579" stroke-width="0.5"/>
<rect x="404.86" y="248.89" width="3.90" height="3.90" fill="#17599A" stroke="#0F4579" stroke-width="0.5"/>
<rect x="399.13" y="227.89" width="3.90" height="3.90" fill="#17599A" stroke="#0F4579" stroke-width="0.5"/>
<rect x="401.02" y="250.86" width="3.90" height="3.90" fill="#17599A" stroke="#0F4579" stroke-width="0.5"/>
<rect x="394.41" y="247.81" width="3.90" height="3.90" fill="#17599A" stroke="#0F4579" stroke-width="0.5"/>
<rect x="398.21" y="217.68" width="3.90" height="3.90" fill="#17599A" stroke="#0F4579" stroke-width="0.5"/>
<rect x="399.55" y="264.19" width="3.90" height="3.90" fill="#17599A" stroke="#0F4579" stroke-width="0.5"/>
<rect x="404.60" y="243.77" width="3.90" height="3.90" fill="#17599A" stroke="#0F4579" stroke-width="0.5"/>
<rect x="400.35" y="245.01" width="3.90" height="3.90" fill="#17599A" stroke="#0F4579" stroke-width="0.5"/>
<rect x="390.74" y="247.46" width="3.90" height="3.90" fill="#17599A" stroke="#0F4579" stroke-width="0.5"/>
<rect x="396.71" y="229.05" width="3.90" height="3.90" fill="#17599A" stroke="#0F4579" stroke-width="0.5"/>
<rect x="392.34" y="251.96" width="3.90" height="3.90" fill="#17599A" stroke="#0F4579" stroke-width="0.5"/>
<rect x="399.66" y="239.35" width="3.90" height="3.90" fill="#17599A" stroke="#0F4579" stroke-width="0.5"/>
<rect x="394.62" y="238.75" width="3.90" height="3.90" fill="#17599A" stroke="#0F4579" stroke-width="0.5"/>
<rect x="396.94" y="224.35" width="3.90" height="3.90" fill="#17599A" stroke="#0F4579" stroke-width="0.5"/>
<rect x="403.73" y="241.69" width="3.90" height="3.90" fill="#17599A" stroke="#0F4579" stroke-width="0.5"/>
<rect x="399.26" y="249.06" width="3.90" height="3.90" fill="#17599A" stroke="#0F4579" stroke-width="0.5"/>
<rect x="395.79" y="234.74" width="3.90" height="3.90" fill="#17599A" stroke="#0F4579" stroke-width="0.5"/>
<rect x="397.53" y="240.29" width="3.90" height="3.90" fill="#17599A" stroke="#0F4579" stroke-width="0.5"/>
<text x="370.80" y="302.80" font-size="9.2" text-anchor="middle" textLength="19.3" lengthAdjust="spacingAndGlyphs">male</text>
<text x="400.00" y="302.80" font-size="9.2" text-anchor="middle" textLength="26.8" lengthAdjust="spacingAndGlyphs">female</text>
<line x1="364.50" y1="193.20" x2="403.80" y2="193.20" stroke="#1a1a1a" stroke-width="1.2"/>
<text x="384.15" y="192.40" font-size="8.5" text-anchor="middle" font-weight="bold">****</text>
<text x="326.40" y="240.10" font-size="11.0" font-weight="bold" text-anchor="middle" textLength="80" lengthAdjust="spacingAndGlyphs" transform="rotate(-90 326.40 240.10)" fill="#1a1a1a"><tspan>CD3</tspan><tspan font-size="6.60" dy="-3.96">+</tspan><tspan dy="3.96">CD8</tspan><tspan font-size="6.60" dy="-3.96">+</tspan><tspan dy="3.96"> T cells (%)</tspan></text>
<text x="9.80" y="364.10" font-size="13.8" font-weight="bold" fill="#000" style="stroke:#000;stroke-width:0.35px">F</text>
<line x1="46.20" y1="376.00" x2="46.20" y2="470.90" stroke="#1a1a1a" stroke-width="1.3"/>
<line x1="45.60" y1="470.30" x2="114.40" y2="470.30" stroke="#1a1a1a" stroke-width="1.3"/>
<line x1="43.00" y1="470.30" x2="46.20" y2="470.30" stroke="#1a1a1a" stroke-width="1.1"/>
<text x="39.70" y="473.30" font-size="8.6" text-anchor="end" textLength="5.6" lengthAdjust="spacingAndGlyphs">0</text>
<line x1="43.00" y1="452.14" x2="46.20" y2="452.14" stroke="#1a1a1a" stroke-width="1.1"/>
<text x="39.70" y="455.14" font-size="8.6" text-anchor="end" textLength="5.6" lengthAdjust="spacingAndGlyphs">2</text>
<line x1="43.00" y1="433.98" x2="46.20" y2="433.98" stroke="#1a1a1a" stroke-width="1.1"/>
<text x="39.70" y="436.98" font-size="8.6" text-anchor="end" textLength="5.6" lengthAdjust="spacingAndGlyphs">4</text>
<line x1="43.00" y1="415.82" x2="46.20" y2="415.82" stroke="#1a1a1a" stroke-width="1.1"/>
<text x="39.70" y="418.82" font-size="8.6" text-anchor="end" textLength="5.6" lengthAdjust="spacingAndGlyphs">6</text>
<line x1="43.00" y1="397.66" x2="46.20" y2="397.66" stroke="#1a1a1a" stroke-width="1.1"/>
<text x="39.70" y="400.66" font-size="8.6" text-anchor="end" textLength="5.6" lengthAdjust="spacingAndGlyphs">8</text>
<line x1="43.00" y1="379.50" x2="46.20" y2="379.50" stroke="#1a1a1a" stroke-width="1.1"/>
<text x="39.70" y="382.50" font-size="8.6" text-anchor="end" textLength="11.2" lengthAdjust="spacingAndGlyphs">10</text>
<line x1="44.20" y1="461.22" x2="46.20" y2="461.22" stroke="#1a1a1a" stroke-width="0.9"/>
<line x1="44.20" y1="443.06" x2="46.20" y2="443.06" stroke="#1a1a1a" stroke-width="0.9"/>
<line x1="44.20" y1="424.90" x2="46.20" y2="424.90" stroke="#1a1a1a" stroke-width="0.9"/>
<line x1="44.20" y1="406.74" x2="46.20" y2="406.74" stroke="#1a1a1a" stroke-width="0.9"/>
<line x1="44.20" y1="388.58" x2="46.20" y2="388.58" stroke="#1a1a1a" stroke-width="0.9"/>
<line x1="65.50" y1="470.30" x2="65.50" y2="473.30" stroke="#1a1a1a" stroke-width="1.1"/>
<line x1="95.00" y1="470.30" x2="95.00" y2="473.30" stroke="#1a1a1a" stroke-width="1.1"/>
<line x1="55.50" y1="431.26" x2="75.50" y2="431.26" stroke="#444" stroke-width="1.2"/>
<line x1="85.00" y1="423.08" x2="105.00" y2="423.08" stroke="#222" stroke-width="1.2"/>
<circle cx="62.05" cy="424.13" r="2.10" fill="#CF1034" stroke="#AE0C2B" stroke-width="0.5"/>
<circle cx="67.52" cy="435.84" r="2.10" fill="#CF1034" stroke="#AE0C2B" stroke-width="0.5"/>
<circle cx="66.04" cy="444.63" r="2.10" fill="#CF1034" stroke="#AE0C2B" stroke-width="0.5"/>
<circle cx="67.73" cy="438.49" r="2.10" fill="#CF1034" stroke="#AE0C2B" stroke-width="0.5"/>
<circle cx="65.42" cy="425.69" r="2.10" fill="#CF1034" stroke="#AE0C2B" stroke-width="0.5"/>
<circle cx="64.39" cy="428.76" r="2.10" fill="#CF1034" stroke="#AE0C2B" stroke-width="0.5"/>
<circle cx="62.54" cy="420.58" r="2.10" fill="#CF1034" stroke="#AE0C2B" stroke-width="0.5"/>
<circle cx="67.96" cy="427.50" r="2.10" fill="#CF1034" stroke="#AE0C2B" stroke-width="0.5"/>
<circle cx="71.15" cy="425.90" r="2.10" fill="#CF1034" stroke="#AE0C2B" stroke-width="0.5"/>
<circle cx="66.36" cy="417.83" r="2.10" fill="#CF1034" stroke="#AE0C2B" stroke-width="0.5"/>
<circle cx="64.35" cy="441.24" r="2.10" fill="#CF1034" stroke="#AE0C2B" stroke-width="0.5"/>
<circle cx="63.30" cy="435.27" r="2.10" fill="#CF1034" stroke="#AE0C2B" stroke-width="0.5"/>
<circle cx="71.74" cy="434.41" r="2.10" fill="#CF1034" stroke="#AE0C2B" stroke-width="0.5"/>
<circle cx="60.86" cy="432.03" r="2.10" fill="#CF1034" stroke="#AE0C2B" stroke-width="0.5"/>
<circle cx="65.19" cy="448.93" r="2.10" fill="#CF1034" stroke="#AE0C2B" stroke-width="0.5"/>
<circle cx="71.50" cy="429.60" r="2.10" fill="#CF1034" stroke="#AE0C2B" stroke-width="0.5"/>
<circle cx="68.33" cy="430.29" r="2.10" fill="#CF1034" stroke="#AE0C2B" stroke-width="0.5"/>
<circle cx="68.16" cy="433.19" r="2.10" fill="#CF1034" stroke="#AE0C2B" stroke-width="0.5"/>
<circle cx="58.83" cy="428.27" r="2.10" fill="#CF1034" stroke="#AE0C2B" stroke-width="0.5"/>
<circle cx="67.69" cy="422.06" r="2.10" fill="#CF1034" stroke="#AE0C2B" stroke-width="0.5"/>
<circle cx="65.43" cy="410.17" r="2.10" fill="#CF1034" stroke="#AE0C2B" stroke-width="0.5"/>
<circle cx="64.42" cy="438.44" r="2.10" fill="#CF1034" stroke="#AE0C2B" stroke-width="0.5"/>
<circle cx="61.71" cy="429.00" r="2.10" fill="#CF1034" stroke="#AE0C2B" stroke-width="0.5"/>
<circle cx="65.44" cy="403.22" r="2.10" fill="#CF1034" stroke="#AE0C2B" stroke-width="0.5"/>
<circle cx="61.20" cy="437.97" r="2.10" fill="#CF1034" stroke="#AE0C2B" stroke-width="0.5"/>
<circle cx="65.31" cy="452.78" r="2.10" fill="#CF1034" stroke="#AE0C2B" stroke-width="0.5"/>
<circle cx="66.13" cy="413.73" r="2.10" fill="#CF1034" stroke="#AE0C2B" stroke-width="0.5"/>
<circle cx="59.81" cy="435.34" r="2.10" fill="#CF1034" stroke="#AE0C2B" stroke-width="0.5"/>
<circle cx="64.60" cy="431.56" r="2.10" fill="#CF1034" stroke="#AE0C2B" stroke-width="0.5"/>
<circle cx="63.34" cy="417.98" r="2.10" fill="#CF1034" stroke="#AE0C2B" stroke-width="0.5"/>
<circle cx="65.28" cy="456.65" r="2.10" fill="#CF1034" stroke="#AE0C2B" stroke-width="0.5"/>
<circle cx="67.48" cy="441.77" r="2.10" fill="#CF1034" stroke="#AE0C2B" stroke-width="0.5"/>
<circle cx="64.92" cy="422.57" r="2.10" fill="#CF1034" stroke="#AE0C2B" stroke-width="0.5"/>
<circle cx="65.65" cy="407.57" r="2.10" fill="#CF1034" stroke="#AE0C2B" stroke-width="0.5"/>
<circle cx="65.52" cy="460.25" r="2.10" fill="#CF1034" stroke="#AE0C2B" stroke-width="0.5"/>
<circle cx="67.96" cy="424.72" r="2.10" fill="#CF1034" stroke="#AE0C2B" stroke-width="0.5"/>
<circle cx="58.32" cy="430.97" r="2.10" fill="#CF1034" stroke="#AE0C2B" stroke-width="0.5"/>
<circle cx="64.01" cy="446.49" r="2.10" fill="#CF1034" stroke="#AE0C2B" stroke-width="0.5"/>
<circle cx="70.39" cy="436.71" r="2.10" fill="#CF1034" stroke="#AE0C2B" stroke-width="0.5"/>
<circle cx="59.76" cy="425.38" r="2.10" fill="#CF1034" stroke="#AE0C2B" stroke-width="0.5"/>
<circle cx="70.16" cy="423.13" r="2.10" fill="#CF1034" stroke="#AE0C2B" stroke-width="0.5"/>
<rect x="93.05" y="387.54" width="3.90" height="3.90" fill="#17599A" stroke="#0F4579" stroke-width="0.5"/>
<rect x="89.62" y="426.30" width="3.90" height="3.90" fill="#17599A" stroke="#0F4579" stroke-width="0.5"/>
<rect x="86.81" y="427.93" width="3.90" height="3.90" fill="#17599A" stroke="#0F4579" stroke-width="0.5"/>
<rect x="89.03" y="416.82" width="3.90" height="3.90" fill="#17599A" stroke="#0F4579" stroke-width="0.5"/>
<rect x="88.47" y="420.46" width="3.90" height="3.90" fill="#17599A" stroke="#0F4579" stroke-width="0.5"/>
<rect x="85.44" y="424.12" width="3.90" height="3.90" fill="#17599A" stroke="#0F4579" stroke-width="0.5"/>
<rect x="90.71" y="433.55" width="3.90" height="3.90" fill="#17599A" stroke="#0F4579" stroke-width="0.5"/>
<rect x="87.67" y="413.10" width="3.90" height="3.90" fill="#17599A" stroke="#0F4579" stroke-width="0.5"/>
<rect x="97.08" y="435.37" width="3.90" height="3.90" fill="#17599A" stroke="#0F4579" stroke-width="0.5"/>
<rect x="100.10" y="430.24" width="3.90" height="3.90" fill="#17599A" stroke="#0F4579" stroke-width="0.5"/>
<rect x="97.59" y="414.93" width="3.90" height="3.90" fill="#17599A" stroke="#0F4579" stroke-width="0.5"/>
<rect x="94.23" y="425.39" width="3.90" height="3.90" fill="#17599A" stroke="#0F4579" stroke-width="0.5"/>
<rect x="88.97" y="429.14" width="3.90" height="3.90" fill="#17599A" stroke="#0F4579" stroke-width="0.5"/>
<rect x="89.63" y="411.05" width="3.90" height="3.90" fill="#17599A" stroke="#0F4579" stroke-width="0.5"/>
<rect x="94.08" y="402.84" width="3.90" height="3.90" fill="#17599A" stroke="#0F4579" stroke-width="0.5"/>
<rect x="91.25" y="430.21" width="3.90" height="3.90" fill="#17599A" stroke="#0F4579" stroke-width="0.5"/>
<rect x="98.38" y="422.71" width="3.90" height="3.90" fill="#17599A" stroke="#0F4579" stroke-width="0.5"/>
<rect x="86.16" y="432.26" width="3.90" height="3.90" fill="#17599A" stroke="#0F4579" stroke-width="0.5"/>
<rect x="91.68" y="412.15" width="3.90" height="3.90" fill="#17599A" stroke="#0F4579" stroke-width="0.5"/>
<rect x="90.64" y="438.29" width="3.90" height="3.90" fill="#17599A" stroke="#0F4579" stroke-width="0.5"/>
<rect x="91.50" y="423.91" width="3.90" height="3.90" fill="#17599A" stroke="#0F4579" stroke-width="0.5"/>
<rect x="86.15" y="420.64" width="3.90" height="3.90" fill="#17599A" stroke="#0F4579" stroke-width="0.5"/>
<rect x="92.06" y="426.37" width="3.90" height="3.90" fill="#17599A" stroke="#0F4579" stroke-width="0.5"/>
<rect x="93.06" y="436.61" width="3.90" height="3.90" fill="#17599A" stroke="#0F4579" stroke-width="0.5"/>
<rect x="97.08" y="424.98" width="3.90" height="3.90" fill="#17599A" stroke="#0F4579" stroke-width="0.5"/>
<rect x="93.52" y="421.94" width="3.90" height="3.90" fill="#17599A" stroke="#0F4579" stroke-width="0.5"/>
<rect x="90.83" y="398.46" width="3.90" height="3.90" fill="#17599A" stroke="#0F4579" stroke-width="0.5"/>
<rect x="86.96" y="434.68" width="3.90" height="3.90" fill="#17599A" stroke="#0F4579" stroke-width="0.5"/>
<rect x="89.98" y="402.17" width="3.90" height="3.90" fill="#17599A" stroke="#0F4579" stroke-width="0.5"/>
<rect x="91.73" y="403.71" width="3.90" height="3.90" fill="#17599A" stroke="#0F4579" stroke-width="0.5"/>
<rect x="88.73" y="424.07" width="3.90" height="3.90" fill="#17599A" stroke="#0F4579" stroke-width="0.5"/>
<rect x="89.75" y="435.90" width="3.90" height="3.90" fill="#17599A" stroke="#0F4579" stroke-width="0.5"/>
<rect x="92.79" y="439.21" width="3.90" height="3.90" fill="#17599A" stroke="#0F4579" stroke-width="0.5"/>
<rect x="88.50" y="432.63" width="3.90" height="3.90" fill="#17599A" stroke="#0F4579" stroke-width="0.5"/>
<rect x="95.61" y="418.79" width="3.90" height="3.90" fill="#17599A" stroke="#0F4579" stroke-width="0.5"/>
<rect x="92.25" y="406.72" width="3.90" height="3.90" fill="#17599A" stroke="#0F4579" stroke-width="0.5"/>
<rect x="98.42" y="410.57" width="3.90" height="3.90" fill="#17599A" stroke="#0F4579" stroke-width="0.5"/>
<rect x="91.35" y="415.91" width="3.90" height="3.90" fill="#17599A" stroke="#0F4579" stroke-width="0.5"/>
<rect x="95.10" y="441.38" width="3.90" height="3.90" fill="#17599A" stroke="#0F4579" stroke-width="0.5"/>
<rect x="99.75" y="418.27" width="3.90" height="3.90" fill="#17599A" stroke="#0F4579" stroke-width="0.5"/>
<rect x="94.58" y="434.77" width="3.90" height="3.90" fill="#17599A" stroke="#0F4579" stroke-width="0.5"/>
<rect x="95.06" y="429.71" width="3.90" height="3.90" fill="#17599A" stroke="#0F4579" stroke-width="0.5"/>
<rect x="96.63" y="437.83" width="3.90" height="3.90" fill="#17599A" stroke="#0F4579" stroke-width="0.5"/>
<rect x="98.90" y="433.13" width="3.90" height="3.90" fill="#17599A" stroke="#0F4579" stroke-width="0.5"/>
<rect x="88.76" y="407.59" width="3.90" height="3.90" fill="#17599A" stroke="#0F4579" stroke-width="0.5"/>
<rect x="99.63" y="425.48" width="3.90" height="3.90" fill="#17599A" stroke="#0F4579" stroke-width="0.5"/>
<rect x="92.24" y="410.00" width="3.90" height="3.90" fill="#17599A" stroke="#0F4579" stroke-width="0.5"/>
<rect x="87.01" y="409.54" width="3.90" height="3.90" fill="#17599A" stroke="#0F4579" stroke-width="0.5"/>
<rect x="96.73" y="403.98" width="3.90" height="3.90" fill="#17599A" stroke="#0F4579" stroke-width="0.5"/>
<rect x="97.43" y="407.75" width="3.90" height="3.90" fill="#17599A" stroke="#0F4579" stroke-width="0.5"/>
<rect x="93.71" y="416.70" width="3.90" height="3.90" fill="#17599A" stroke="#0F4579" stroke-width="0.5"/>
<rect x="89.18" y="404.35" width="3.90" height="3.90" fill="#17599A" stroke="#0F4579" stroke-width="0.5"/>
<rect x="96.78" y="431.61" width="3.90" height="3.90" fill="#17599A" stroke="#0F4579" stroke-width="0.5"/>
<rect x="88.85" y="439.82" width="3.90" height="3.90" fill="#17599A" stroke="#0F4579" stroke-width="0.5"/>
<rect x="94.59" y="405.08" width="3.90" height="3.90" fill="#17599A" stroke="#0F4579" stroke-width="0.5"/>
<rect x="87.12" y="415.72" width="3.90" height="3.90" fill="#17599A" stroke="#0F4579" stroke-width="0.5"/>
<rect x="94.53" y="432.10" width="3.90" height="3.90" fill="#17599A" stroke="#0F4579" stroke-width="0.5"/>
<rect x="94.35" y="409.06" width="3.90" height="3.90" fill="#17599A" stroke="#0F4579" stroke-width="0.5"/>
<rect x="91.57" y="419.26" width="3.90" height="3.90" fill="#17599A" stroke="#0F4579" stroke-width="0.5"/>
<rect x="94.47" y="411.74" width="3.90" height="3.90" fill="#17599A" stroke="#0F4579" stroke-width="0.5"/>
<rect x="99.92" y="416.05" width="3.90" height="3.90" fill="#17599A" stroke="#0F4579" stroke-width="0.5"/>
<rect x="93.79" y="400.00" width="3.90" height="3.90" fill="#17599A" stroke="#0F4579" stroke-width="0.5"/>
<rect x="99.23" y="413.20" width="3.90" height="3.90" fill="#17599A" stroke="#0F4579" stroke-width="0.5"/>
<rect x="95.74" y="421.82" width="3.90" height="3.90" fill="#17599A" stroke="#0F4579" stroke-width="0.5"/>
<rect x="97.92" y="427.74" width="3.90" height="3.90" fill="#17599A" stroke="#0F4579" stroke-width="0.5"/>
<rect x="87.19" y="418.21" width="3.90" height="3.90" fill="#17599A" stroke="#0F4579" stroke-width="0.5"/>
<rect x="94.06" y="414.45" width="3.90" height="3.90" fill="#17599A" stroke="#0F4579" stroke-width="0.5"/>
<rect x="97.69" y="420.24" width="3.90" height="3.90" fill="#17599A" stroke="#0F4579" stroke-width="0.5"/>
<rect x="99.10" y="436.35" width="3.90" height="3.90" fill="#17599A" stroke="#0F4579" stroke-width="0.5"/>
<rect x="97.16" y="440.37" width="3.90" height="3.90" fill="#17599A" stroke="#0F4579" stroke-width="0.5"/>
<rect x="92.05" y="441.99" width="3.90" height="3.90" fill="#17599A" stroke="#0F4579" stroke-width="0.5"/>
<rect x="96.68" y="412.70" width="3.90" height="3.90" fill="#17599A" stroke="#0F4579" stroke-width="0.5"/>
<rect x="100.78" y="421.51" width="3.90" height="3.90" fill="#17599A" stroke="#0F4579" stroke-width="0.5"/>
<rect x="87.59" y="436.89" width="3.90" height="3.90" fill="#17599A" stroke="#0F4579" stroke-width="0.5"/>
<rect x="100.23" y="428.00" width="3.90" height="3.90" fill="#17599A" stroke="#0F4579" stroke-width="0.5"/>
<rect x="90.91" y="421.54" width="3.90" height="3.90" fill="#17599A" stroke="#0F4579" stroke-width="0.5"/>
<rect x="95.82" y="401.28" width="3.90" height="3.90" fill="#17599A" stroke="#0F4579" stroke-width="0.5"/>
<rect x="94.06" y="427.59" width="3.90" height="3.90" fill="#17599A" stroke="#0F4579" stroke-width="0.5"/>
<rect x="89.84" y="414.23" width="3.90" height="3.90" fill="#17599A" stroke="#0F4579" stroke-width="0.5"/>
<text x="63.30" y="487.30" font-size="9.2" text-anchor="middle" textLength="19.3" lengthAdjust="spacingAndGlyphs">male</text>
<text x="101.90" y="487.30" font-size="9.2" text-anchor="middle" textLength="26.8" lengthAdjust="spacingAndGlyphs">female</text>
<line x1="62.50" y1="378.80" x2="102.50" y2="378.80" stroke="#1a1a1a" stroke-width="1.2"/>
<text x="82.50" y="378.00" font-size="8.5" text-anchor="middle" font-weight="bold">**</text>
<text x="22.60" y="423.00" font-size="11.0" font-weight="bold" text-anchor="middle" textLength="57" lengthAdjust="spacingAndGlyphs" transform="rotate(-90 22.60 423.00)" fill="#1a1a1a"><tspan>NK1.1</tspan><tspan font-size="6.60" dy="-3.96">+</tspan><tspan dy="3.96"> cells (%)</tspan></text>
<text x="150.80" y="364.50" font-size="13.8" font-weight="bold" fill="#000" style="stroke:#000;stroke-width:0.35px">G</text>
<line x1="195.80" y1="376.00" x2="195.80" y2="470.90" stroke="#1a1a1a" stroke-width="1.3"/>
<line x1="195.20" y1="470.30" x2="263.80" y2="470.30" stroke="#1a1a1a" stroke-width="1.3"/>
<line x1="192.60" y1="470.30" x2="195.80" y2="470.30" stroke="#1a1a1a" stroke-width="1.1"/>
<text x="189.30" y="473.30" font-size="8.6" text-anchor="end" textLength="5.6" lengthAdjust="spacingAndGlyphs">0</text>
<line x1="192.60" y1="447.60" x2="195.80" y2="447.60" stroke="#1a1a1a" stroke-width="1.1"/>
<text x="189.30" y="450.60" font-size="8.6" text-anchor="end" textLength="11.2" lengthAdjust="spacingAndGlyphs">10</text>
<line x1="192.60" y1="424.90" x2="195.80" y2="424.90" stroke="#1a1a1a" stroke-width="1.1"/>
<text x="189.30" y="427.90" font-size="8.6" text-anchor="end" textLength="11.2" lengthAdjust="spacingAndGlyphs">20</text>
<line x1="192.60" y1="402.20" x2="195.80" y2="402.20" stroke="#1a1a1a" stroke-width="1.1"/>
<text x="189.30" y="405.20" font-size="8.6" text-anchor="end" textLength="11.2" lengthAdjust="spacingAndGlyphs">30</text>
<line x1="192.60" y1="379.50" x2="195.80" y2="379.50" stroke="#1a1a1a" stroke-width="1.1"/>
<text x="189.30" y="382.50" font-size="8.6" text-anchor="end" textLength="11.2" lengthAdjust="spacingAndGlyphs">40</text>
<line x1="193.80" y1="458.95" x2="195.80" y2="458.95" stroke="#1a1a1a" stroke-width="0.9"/>
<line x1="193.80" y1="436.25" x2="195.80" y2="436.25" stroke="#1a1a1a" stroke-width="0.9"/>
<line x1="193.80" y1="413.55" x2="195.80" y2="413.55" stroke="#1a1a1a" stroke-width="0.9"/>
<line x1="193.80" y1="390.85" x2="195.80" y2="390.85" stroke="#1a1a1a" stroke-width="0.9"/>
<line x1="215.00" y1="470.30" x2="215.00" y2="473.30" stroke="#1a1a1a" stroke-width="1.1"/>
<line x1="243.80" y1="470.30" x2="243.80" y2="473.30" stroke="#1a1a1a" stroke-width="1.1"/>
<line x1="205.00" y1="447.60" x2="225.00" y2="447.60" stroke="#444" stroke-width="1.2"/>
<line x1="233.80" y1="452.14" x2="253.80" y2="452.14" stroke="#222" stroke-width="1.2"/>
<circle cx="215.00" cy="403.11" r="2.10" fill="#CF1034" stroke="#AE0C2B" stroke-width="0.5"/>
<circle cx="215.00" cy="415.14" r="2.10" fill="#CF1034" stroke="#AE0C2B" stroke-width="0.5"/>
<circle cx="216.18" cy="446.89" r="2.10" fill="#CF1034" stroke="#AE0C2B" stroke-width="0.5"/>
<circle cx="213.58" cy="460.37" r="2.10" fill="#CF1034" stroke="#AE0C2B" stroke-width="0.5"/>
<circle cx="222.10" cy="448.84" r="2.10" fill="#CF1034" stroke="#AE0C2B" stroke-width="0.5"/>
<circle cx="214.43" cy="443.18" r="2.10" fill="#CF1034" stroke="#AE0C2B" stroke-width="0.5"/>
<circle cx="217.50" cy="441.00" r="2.10" fill="#CF1034" stroke="#AE0C2B" stroke-width="0.5"/>
<circle cx="213.05" cy="446.97" r="2.10" fill="#CF1034" stroke="#AE0C2B" stroke-width="0.5"/>
<circle cx="219.82" cy="451.47" r="2.10" fill="#CF1034" stroke="#AE0C2B" stroke-width="0.5"/>
<circle cx="219.13" cy="446.50" r="2.10" fill="#CF1034" stroke="#AE0C2B" stroke-width="0.5"/>
<circle cx="215.56" cy="465.07" r="2.10" fill="#CF1034" stroke="#AE0C2B" stroke-width="0.5"/>
<circle cx="215.84" cy="452.62" r="2.10" fill="#CF1034" stroke="#AE0C2B" stroke-width="0.5"/>
<circle cx="215.59" cy="422.87" r="2.10" fill="#CF1034" stroke="#AE0C2B" stroke-width="0.5"/>
<circle cx="214.64" cy="437.17" r="2.10" fill="#CF1034" stroke="#AE0C2B" stroke-width="0.5"/>
<circle cx="210.39" cy="446.29" r="2.10" fill="#CF1034" stroke="#AE0C2B" stroke-width="0.5"/>
<circle cx="216.55" cy="459.15" r="2.10" fill="#CF1034" stroke="#AE0C2B" stroke-width="0.5"/>
<circle cx="210.03" cy="449.85" r="2.10" fill="#CF1034" stroke="#AE0C2B" stroke-width="0.5"/>
<circle cx="215.75" cy="426.38" r="2.10" fill="#CF1034" stroke="#AE0C2B" stroke-width="0.5"/>
<circle cx="211.31" cy="458.43" r="2.10" fill="#CF1034" stroke="#AE0C2B" stroke-width="0.5"/>
<circle cx="219.33" cy="456.41" r="2.10" fill="#CF1034" stroke="#AE0C2B" stroke-width="0.5"/>
<circle cx="216.38" cy="455.72" r="2.10" fill="#CF1034" stroke="#AE0C2B" stroke-width="0.5"/>
<circle cx="214.76" cy="429.92" r="2.10" fill="#CF1034" stroke="#AE0C2B" stroke-width="0.5"/>
<circle cx="218.39" cy="443.45" r="2.10" fill="#CF1034" stroke="#AE0C2B" stroke-width="0.5"/>
<circle cx="215.56" cy="434.71" r="2.10" fill="#CF1034" stroke="#AE0C2B" stroke-width="0.5"/>
<circle cx="213.37" cy="454.42" r="2.10" fill="#CF1034" stroke="#AE0C2B" stroke-width="0.5"/>
<circle cx="207.96" cy="454.32" r="2.10" fill="#CF1034" stroke="#AE0C2B" stroke-width="0.5"/>
<circle cx="208.02" cy="447.75" r="2.10" fill="#CF1034" stroke="#AE0C2B" stroke-width="0.5"/>
<circle cx="211.32" cy="452.28" r="2.10" fill="#CF1034" stroke="#AE0C2B" stroke-width="0.5"/>
<circle cx="216.62" cy="450.08" r="2.10" fill="#CF1034" stroke="#AE0C2B" stroke-width="0.5"/>
<circle cx="211.17" cy="442.57" r="2.10" fill="#CF1034" stroke="#AE0C2B" stroke-width="0.5"/>
<circle cx="215.49" cy="462.15" r="2.10" fill="#CF1034" stroke="#AE0C2B" stroke-width="0.5"/>
<circle cx="214.38" cy="457.65" r="2.10" fill="#CF1034" stroke="#AE0C2B" stroke-width="0.5"/>
<circle cx="213.81" cy="450.31" r="2.10" fill="#CF1034" stroke="#AE0C2B" stroke-width="0.5"/>
<circle cx="221.56" cy="454.54" r="2.10" fill="#CF1034" stroke="#AE0C2B" stroke-width="0.5"/>
<circle cx="210.50" cy="455.26" r="2.10" fill="#CF1034" stroke="#AE0C2B" stroke-width="0.5"/>
<circle cx="213.81" cy="440.14" r="2.10" fill="#CF1034" stroke="#AE0C2B" stroke-width="0.5"/>
<circle cx="213.00" cy="463.13" r="2.10" fill="#CF1034" stroke="#AE0C2B" stroke-width="0.5"/>
<circle cx="208.03" cy="451.69" r="2.10" fill="#CF1034" stroke="#AE0C2B" stroke-width="0.5"/>
<circle cx="218.42" cy="453.75" r="2.10" fill="#CF1034" stroke="#AE0C2B" stroke-width="0.5"/>
<rect x="244.10" y="461.87" width="3.90" height="3.90" fill="#17599A" stroke="#0F4579" stroke-width="0.5"/>
<rect x="241.45" y="440.95" width="3.90" height="3.90" fill="#17599A" stroke="#0F4579" stroke-width="0.5"/>
<rect x="240.06" y="449.01" width="3.90" height="3.90" fill="#17599A" stroke="#0F4579" stroke-width="0.5"/>
<rect x="240.99" y="426.08" width="3.90" height="3.90" fill="#17599A" stroke="#0F4579" stroke-width="0.5"/>
<rect x="247.10" y="454.47" width="3.90" height="3.90" fill="#17599A" stroke="#0F4579" stroke-width="0.5"/>
<rect x="237.73" y="458.29" width="3.90" height="3.90" fill="#17599A" stroke="#0F4579" stroke-width="0.5"/>
<rect x="238.86" y="444.93" width="3.90" height="3.90" fill="#17599A" stroke="#0F4579" stroke-width="0.5"/>
<rect x="242.36" y="429.10" width="3.90" height="3.90" fill="#17599A" stroke="#0F4579" stroke-width="0.5"/>
<rect x="240.84" y="455.73" width="3.90" height="3.90" fill="#17599A" stroke="#0F4579" stroke-width="0.5"/>
<rect x="242.62" y="447.85" width="3.90" height="3.90" fill="#17599A" stroke="#0F4579" stroke-width="0.5"/>
<rect x="236.53" y="453.21" width="3.90" height="3.90" fill="#17599A" stroke="#0F4579" stroke-width="0.5"/>
<rect x="244.41" y="455.74" width="3.90" height="3.90" fill="#17599A" stroke="#0F4579" stroke-width="0.5"/>
<rect x="246.85" y="457.09" width="3.90" height="3.90" fill="#17599A" stroke="#0F4579" stroke-width="0.5"/>
<rect x="239.02" y="462.46" width="3.90" height="3.90" fill="#17599A" stroke="#0F4579" stroke-width="0.5"/>
<rect x="241.61" y="436.59" width="3.90" height="3.90" fill="#17599A" stroke="#0F4579" stroke-width="0.5"/>
<rect x="244.23" y="450.99" width="3.90" height="3.90" fill="#17599A" stroke="#0F4579" stroke-width="0.5"/>
<rect x="238.38" y="455.90" width="3.90" height="3.90" fill="#17599A" stroke="#0F4579" stroke-width="0.5"/>
<rect x="234.76" y="454.76" width="3.90" height="3.90" fill="#17599A" stroke="#0F4579" stroke-width="0.5"/>
<rect x="249.82" y="449.76" width="3.90" height="3.90" fill="#17599A" stroke="#0F4579" stroke-width="0.5"/>
<rect x="246.03" y="449.22" width="3.90" height="3.90" fill="#17599A" stroke="#0F4579" stroke-width="0.5"/>
<rect x="248.70" y="452.06" width="3.90" height="3.90" fill="#17599A" stroke="#0F4579" stroke-width="0.5"/>
<rect x="240.71" y="443.62" width="3.90" height="3.90" fill="#17599A" stroke="#0F4579" stroke-width="0.5"/>
<rect x="242.20" y="459.80" width="3.90" height="3.90" fill="#17599A" stroke="#0F4579" stroke-width="0.5"/>
<rect x="244.17" y="443.02" width="3.90" height="3.90" fill="#17599A" stroke="#0F4579" stroke-width="0.5"/>
<rect x="242.90" y="432.26" width="3.90" height="3.90" fill="#17599A" stroke="#0F4579" stroke-width="0.5"/>
<rect x="246.95" y="460.61" width="3.90" height="3.90" fill="#17599A" stroke="#0F4579" stroke-width="0.5"/>
<rect x="241.50" y="452.06" width="3.90" height="3.90" fill="#17599A" stroke="#0F4579" stroke-width="0.5"/>
<rect x="240.66" y="431.55" width="3.90" height="3.90" fill="#17599A" stroke="#0F4579" stroke-width="0.5"/>
<rect x="244.56" y="445.73" width="3.90" height="3.90" fill="#17599A" stroke="#0F4579" stroke-width="0.5"/>
<rect x="240.62" y="438.57" width="3.90" height="3.90" fill="#17599A" stroke="#0F4579" stroke-width="0.5"/>
<rect x="234.36" y="449.84" width="3.90" height="3.90" fill="#17599A" stroke="#0F4579" stroke-width="0.5"/>
<rect x="237.12" y="447.72" width="3.90" height="3.90" fill="#17599A" stroke="#0F4579" stroke-width="0.5"/>
<rect x="246.68" y="446.88" width="3.90" height="3.90" fill="#17599A" stroke="#0F4579" stroke-width="0.5"/>
<rect x="242.84" y="453.88" width="3.90" height="3.90" fill="#17599A" stroke="#0F4579" stroke-width="0.5"/>
<rect x="238.79" y="453.51" width="3.90" height="3.90" fill="#17599A" stroke="#0F4579" stroke-width="0.5"/>
<rect x="239.96" y="458.85" width="3.90" height="3.90" fill="#17599A" stroke="#0F4579" stroke-width="0.5"/>
<rect x="234.35" y="452.32" width="3.90" height="3.90" fill="#17599A" stroke="#0F4579" stroke-width="0.5"/>
<rect x="242.48" y="434.46" width="3.90" height="3.90" fill="#17599A" stroke="#0F4579" stroke-width="0.5"/>
<rect x="237.11" y="450.56" width="3.90" height="3.90" fill="#17599A" stroke="#0F4579" stroke-width="0.5"/>
<rect x="235.72" y="457.33" width="3.90" height="3.90" fill="#17599A" stroke="#0F4579" stroke-width="0.5"/>
<rect x="243.03" y="438.54" width="3.90" height="3.90" fill="#17599A" stroke="#0F4579" stroke-width="0.5"/>
<rect x="245.21" y="453.09" width="3.90" height="3.90" fill="#17599A" stroke="#0F4579" stroke-width="0.5"/>
<rect x="237.41" y="460.58" width="3.90" height="3.90" fill="#17599A" stroke="#0F4579" stroke-width="0.5"/>
<rect x="243.13" y="426.76" width="3.90" height="3.90" fill="#17599A" stroke="#0F4579" stroke-width="0.5"/>
<rect x="241.87" y="445.50" width="3.90" height="3.90" fill="#17599A" stroke="#0F4579" stroke-width="0.5"/>
<rect x="241.53" y="462.17" width="3.90" height="3.90" fill="#17599A" stroke="#0F4579" stroke-width="0.5"/>
<rect x="244.68" y="459.00" width="3.90" height="3.90" fill="#17599A" stroke="#0F4579" stroke-width="0.5"/>
<text x="213.50" y="487.30" font-size="9.2" text-anchor="middle" textLength="19.3" lengthAdjust="spacingAndGlyphs">male</text>
<text x="251.90" y="487.30" font-size="9.2" text-anchor="middle" textLength="26.8" lengthAdjust="spacingAndGlyphs">female</text>
<line x1="212.50" y1="378.20" x2="253.00" y2="378.20" stroke="#1a1a1a" stroke-width="1.2"/>
<text x="232.75" y="377.40" font-size="8.5" text-anchor="middle" font-weight="bold">*</text>
<text x="156.90" y="421.30" font-size="11.0" font-weight="bold" text-anchor="middle" textLength="45.5" lengthAdjust="spacingAndGlyphs" transform="rotate(-90 156.90 421.30)" fill="#1a1a1a"><tspan>CD11b</tspan><tspan font-size="6.60" dy="-3.96">+</tspan><tspan dy="3.96">Ly6G</tspan><tspan font-size="6.60" dy="-3.96">-</tspan></text>
<text x="169.40" y="421.75" font-size="11.0" font-weight="bold" text-anchor="middle" textLength="52.5" lengthAdjust="spacingAndGlyphs" transform="rotate(-90 169.40 421.75)" fill="#1a1a1a"><tspan>monocytes (%)</tspan></text>
<text x="302.60" y="363.70" font-size="13.8" font-weight="bold" fill="#000" style="stroke:#000;stroke-width:0.35px">H</text>
<line x1="351.40" y1="371.70" x2="351.40" y2="470.80" stroke="#1a1a1a" stroke-width="1.3"/>
<line x1="350.80" y1="470.20" x2="422.00" y2="470.20" stroke="#1a1a1a" stroke-width="1.3"/>
<line x1="348.20" y1="470.20" x2="351.40" y2="470.20" stroke="#1a1a1a" stroke-width="1.1"/>
<text x="344.90" y="473.20" font-size="8.6" text-anchor="end" textLength="5.6" lengthAdjust="spacingAndGlyphs">0</text>
<line x1="348.20" y1="451.20" x2="351.40" y2="451.20" stroke="#1a1a1a" stroke-width="1.1"/>
<text x="344.90" y="454.20" font-size="8.6" text-anchor="end" textLength="11.2" lengthAdjust="spacingAndGlyphs">20</text>
<line x1="348.20" y1="432.20" x2="351.40" y2="432.20" stroke="#1a1a1a" stroke-width="1.1"/>
<text x="344.90" y="435.20" font-size="8.6" text-anchor="end" textLength="11.2" lengthAdjust="spacingAndGlyphs">40</text>
<line x1="348.20" y1="413.20" x2="351.40" y2="413.20" stroke="#1a1a1a" stroke-width="1.1"/>
<text x="344.90" y="416.20" font-size="8.6" text-anchor="end" textLength="11.2" lengthAdjust="spacingAndGlyphs">60</text>
<line x1="348.20" y1="394.20" x2="351.40" y2="394.20" stroke="#1a1a1a" stroke-width="1.1"/>
<text x="344.90" y="397.20" font-size="8.6" text-anchor="end" textLength="11.2" lengthAdjust="spacingAndGlyphs">80</text>
<line x1="348.20" y1="375.20" x2="351.40" y2="375.20" stroke="#1a1a1a" stroke-width="1.1"/>
<text x="344.90" y="378.20" font-size="8.6" text-anchor="end" textLength="16.799999999999997" lengthAdjust="spacingAndGlyphs">100</text>
<line x1="349.40" y1="460.70" x2="351.40" y2="460.70" stroke="#1a1a1a" stroke-width="0.9"/>
<line x1="349.40" y1="441.70" x2="351.40" y2="441.70" stroke="#1a1a1a" stroke-width="0.9"/>
<line x1="349.40" y1="422.70" x2="351.40" y2="422.70" stroke="#1a1a1a" stroke-width="0.9"/>
<line x1="349.40" y1="403.70" x2="351.40" y2="403.70" stroke="#1a1a1a" stroke-width="0.9"/>
<line x1="349.40" y1="384.70" x2="351.40" y2="384.70" stroke="#1a1a1a" stroke-width="0.9"/>
<line x1="371.00" y1="470.20" x2="371.00" y2="473.20" stroke="#1a1a1a" stroke-width="1.1"/>
<line x1="401.20" y1="470.20" x2="401.20" y2="473.20" stroke="#1a1a1a" stroke-width="1.1"/>
<line x1="361.00" y1="443.60" x2="381.00" y2="443.60" stroke="#444" stroke-width="1.2"/>
<line x1="391.20" y1="460.70" x2="411.20" y2="460.70" stroke="#222" stroke-width="1.2"/>
<circle cx="368.21" cy="454.20" r="2.10" fill="#CF1034" stroke="#AE0C2B" stroke-width="0.5"/>
<circle cx="369.09" cy="446.03" r="2.10" fill="#CF1034" stroke="#AE0C2B" stroke-width="0.5"/>
<circle cx="368.91" cy="425.86" r="2.10" fill="#CF1034" stroke="#AE0C2B" stroke-width="0.5"/>
<circle cx="372.74" cy="427.82" r="2.10" fill="#CF1034" stroke="#AE0C2B" stroke-width="0.5"/>
<circle cx="375.01" cy="466.19" r="2.10" fill="#CF1034" stroke="#AE0C2B" stroke-width="0.5"/>
<circle cx="372.41" cy="441.46" r="2.10" fill="#CF1034" stroke="#AE0C2B" stroke-width="0.5"/>
<circle cx="370.76" cy="406.58" r="2.10" fill="#CF1034" stroke="#AE0C2B" stroke-width="0.5"/>
<circle cx="369.80" cy="457.03" r="2.10" fill="#CF1034" stroke="#AE0C2B" stroke-width="0.5"/>
<circle cx="371.85" cy="425.01" r="2.10" fill="#CF1034" stroke="#AE0C2B" stroke-width="0.5"/>
<circle cx="370.46" cy="463.21" r="2.10" fill="#CF1034" stroke="#AE0C2B" stroke-width="0.5"/>
<circle cx="365.98" cy="447.23" r="2.10" fill="#CF1034" stroke="#AE0C2B" stroke-width="0.5"/>
<circle cx="369.08" cy="431.50" r="2.10" fill="#CF1034" stroke="#AE0C2B" stroke-width="0.5"/>
<circle cx="364.61" cy="464.45" r="2.10" fill="#CF1034" stroke="#AE0C2B" stroke-width="0.5"/>
<circle cx="370.15" cy="439.39" r="2.10" fill="#CF1034" stroke="#AE0C2B" stroke-width="0.5"/>
<circle cx="375.41" cy="462.67" r="2.10" fill="#CF1034" stroke="#AE0C2B" stroke-width="0.5"/>
<circle cx="371.03" cy="401.51" r="2.10" fill="#CF1034" stroke="#AE0C2B" stroke-width="0.5"/>
<circle cx="371.25" cy="411.42" r="2.10" fill="#CF1034" stroke="#AE0C2B" stroke-width="0.5"/>
<circle cx="371.56" cy="452.05" r="2.10" fill="#CF1034" stroke="#AE0C2B" stroke-width="0.5"/>
<circle cx="363.25" cy="452.45" r="2.10" fill="#CF1034" stroke="#AE0C2B" stroke-width="0.5"/>
<circle cx="373.15" cy="432.53" r="2.10" fill="#CF1034" stroke="#AE0C2B" stroke-width="0.5"/>
<circle cx="370.59" cy="460.40" r="2.10" fill="#CF1034" stroke="#AE0C2B" stroke-width="0.5"/>
<circle cx="375.76" cy="446.11" r="2.10" fill="#CF1034" stroke="#AE0C2B" stroke-width="0.5"/>
<circle cx="370.53" cy="419.20" r="2.10" fill="#CF1034" stroke="#AE0C2B" stroke-width="0.5"/>
<circle cx="371.02" cy="434.39" r="2.10" fill="#CF1034" stroke="#AE0C2B" stroke-width="0.5"/>
<circle cx="373.15" cy="449.27" r="2.10" fill="#CF1034" stroke="#AE0C2B" stroke-width="0.5"/>
<circle cx="371.71" cy="415.26" r="2.10" fill="#CF1034" stroke="#AE0C2B" stroke-width="0.5"/>
<circle cx="363.60" cy="459.28" r="2.10" fill="#CF1034" stroke="#AE0C2B" stroke-width="0.5"/>
<circle cx="366.60" cy="451.17" r="2.10" fill="#CF1034" stroke="#AE0C2B" stroke-width="0.5"/>
<circle cx="367.48" cy="464.81" r="2.10" fill="#CF1034" stroke="#AE0C2B" stroke-width="0.5"/>
<circle cx="373.16" cy="438.23" r="2.10" fill="#CF1034" stroke="#AE0C2B" stroke-width="0.5"/>
<circle cx="378.76" cy="454.82" r="2.10" fill="#CF1034" stroke="#AE0C2B" stroke-width="0.5"/>
<circle cx="377.37" cy="464.66" r="2.10" fill="#CF1034" stroke="#AE0C2B" stroke-width="0.5"/>
<circle cx="369.95" cy="467.31" r="2.10" fill="#CF1034" stroke="#AE0C2B" stroke-width="0.5"/>
<circle cx="374.14" cy="454.76" r="2.10" fill="#CF1034" stroke="#AE0C2B" stroke-width="0.5"/>
<circle cx="378.72" cy="462.14" r="2.10" fill="#CF1034" stroke="#AE0C2B" stroke-width="0.5"/>
<circle cx="371.64" cy="398.22" r="2.10" fill="#CF1034" stroke="#AE0C2B" stroke-width="0.5"/>
<circle cx="375.97" cy="450.43" r="2.10" fill="#CF1034" stroke="#AE0C2B" stroke-width="0.5"/>
<circle cx="373.98" cy="457.86" r="2.10" fill="#CF1034" stroke="#AE0C2B" stroke-width="0.5"/>
<circle cx="364.45" cy="456.14" r="2.10" fill="#CF1034" stroke="#AE0C2B" stroke-width="0.5"/>
<circle cx="363.47" cy="449.02" r="2.10" fill="#CF1034" stroke="#AE0C2B" stroke-width="0.5"/>
<circle cx="366.60" cy="461.33" r="2.10" fill="#CF1034" stroke="#AE0C2B" stroke-width="0.5"/>
<circle cx="367.38" cy="428.85" r="2.10" fill="#CF1034" stroke="#AE0C2B" stroke-width="0.5"/>
<circle cx="374.64" cy="429.90" r="2.10" fill="#CF1034" stroke="#AE0C2B" stroke-width="0.5"/>
<circle cx="367.37" cy="458.50" r="2.10" fill="#CF1034" stroke="#AE0C2B" stroke-width="0.5"/>
<circle cx="369.54" cy="442.38" r="2.10" fill="#CF1034" stroke="#AE0C2B" stroke-width="0.5"/>
<circle cx="378.19" cy="458.34" r="2.10" fill="#CF1034" stroke="#AE0C2B" stroke-width="0.5"/>
<circle cx="373.20" cy="444.44" r="2.10" fill="#CF1034" stroke="#AE0C2B" stroke-width="0.5"/>
<circle cx="369.87" cy="449.03" r="2.10" fill="#CF1034" stroke="#AE0C2B" stroke-width="0.5"/>
<circle cx="378.60" cy="448.61" r="2.10" fill="#CF1034" stroke="#AE0C2B" stroke-width="0.5"/>
<circle cx="370.19" cy="422.11" r="2.10" fill="#CF1034" stroke="#AE0C2B" stroke-width="0.5"/>
<rect x="406.63" y="464.32" width="3.90" height="3.90" fill="#17599A" stroke="#0F4579" stroke-width="0.5"/>
<rect x="399.38" y="463.34" width="3.90" height="3.90" fill="#17599A" stroke="#0F4579" stroke-width="0.5"/>
<rect x="393.36" y="466.16" width="3.90" height="3.90" fill="#17599A" stroke="#0F4579" stroke-width="0.5"/>
<rect x="400.68" y="459.40" width="3.90" height="3.90" fill="#17599A" stroke="#0F4579" stroke-width="0.5"/>
<rect x="396.78" y="464.56" width="3.90" height="3.90" fill="#17599A" stroke="#0F4579" stroke-width="0.5"/>
<rect x="398.83" y="457.43" width="3.90" height="3.90" fill="#17599A" stroke="#0F4579" stroke-width="0.5"/>
<rect x="398.34" y="451.12" width="3.90" height="3.90" fill="#17599A" stroke="#0F4579" stroke-width="0.5"/>
<rect x="400.80" y="455.12" width="3.90" height="3.90" fill="#17599A" stroke="#0F4579" stroke-width="0.5"/>
<rect x="404.47" y="455.59" width="3.90" height="3.90" fill="#17599A" stroke="#0F4579" stroke-width="0.5"/>
<rect x="399.42" y="447.50" width="3.90" height="3.90" fill="#17599A" stroke="#0F4579" stroke-width="0.5"/>
<rect x="393.49" y="459.62" width="3.90" height="3.90" fill="#17599A" stroke="#0F4579" stroke-width="0.5"/>
<rect x="396.53" y="453.82" width="3.90" height="3.90" fill="#17599A" stroke="#0F4579" stroke-width="0.5"/>
<rect x="393.51" y="457.39" width="3.90" height="3.90" fill="#17599A" stroke="#0F4579" stroke-width="0.5"/>
<rect x="402.23" y="462.19" width="3.90" height="3.90" fill="#17599A" stroke="#0F4579" stroke-width="0.5"/>
<rect x="403.10" y="458.96" width="3.90" height="3.90" fill="#17599A" stroke="#0F4579" stroke-width="0.5"/>
<rect x="406.26" y="461.57" width="3.90" height="3.90" fill="#17599A" stroke="#0F4579" stroke-width="0.5"/>
<rect x="395.17" y="462.90" width="3.90" height="3.90" fill="#17599A" stroke="#0F4579" stroke-width="0.5"/>
<rect x="399.18" y="443.75" width="3.90" height="3.90" fill="#17599A" stroke="#0F4579" stroke-width="0.5"/>
<rect x="399.12" y="439.34" width="3.90" height="3.90" fill="#17599A" stroke="#0F4579" stroke-width="0.5"/>
<rect x="391.55" y="462.86" width="3.90" height="3.90" fill="#17599A" stroke="#0F4579" stroke-width="0.5"/>
<rect x="397.61" y="459.58" width="3.90" height="3.90" fill="#17599A" stroke="#0F4579" stroke-width="0.5"/>
<rect x="400.44" y="451.99" width="3.90" height="3.90" fill="#17599A" stroke="#0F4579" stroke-width="0.5"/>
<rect x="399.21" y="436.48" width="3.90" height="3.90" fill="#17599A" stroke="#0F4579" stroke-width="0.5"/>
<rect x="401.08" y="464.80" width="3.90" height="3.90" fill="#17599A" stroke="#0F4579" stroke-width="0.5"/>
<rect x="404.03" y="466.55" width="3.90" height="3.90" fill="#17599A" stroke="#0F4579" stroke-width="0.5"/>
<rect x="397.32" y="462.08" width="3.90" height="3.90" fill="#17599A" stroke="#0F4579" stroke-width="0.5"/>
<rect x="395.60" y="455.90" width="3.90" height="3.90" fill="#17599A" stroke="#0F4579" stroke-width="0.5"/>
<rect x="402.12" y="456.96" width="3.90" height="3.90" fill="#17599A" stroke="#0F4579" stroke-width="0.5"/>
<rect x="407.12" y="458.37" width="3.90" height="3.90" fill="#17599A" stroke="#0F4579" stroke-width="0.5"/>
<rect x="404.62" y="463.08" width="3.90" height="3.90" fill="#17599A" stroke="#0F4579" stroke-width="0.5"/>
<rect x="398.51" y="466.53" width="3.90" height="3.90" fill="#17599A" stroke="#0F4579" stroke-width="0.5"/>
<rect x="398.80" y="453.93" width="3.90" height="3.90" fill="#17599A" stroke="#0F4579" stroke-width="0.5"/>
<rect x="395.82" y="458.19" width="3.90" height="3.90" fill="#17599A" stroke="#0F4579" stroke-width="0.5"/>
<rect x="391.26" y="457.52" width="3.90" height="3.90" fill="#17599A" stroke="#0F4579" stroke-width="0.5"/>
<text x="368.10" y="487.40" font-size="9.2" text-anchor="middle" textLength="19.3" lengthAdjust="spacingAndGlyphs">male</text>
<text x="406.70" y="487.40" font-size="9.2" text-anchor="middle" textLength="26.8" lengthAdjust="spacingAndGlyphs">female</text>
<line x1="370.00" y1="381.00" x2="400.40" y2="381.00" stroke="#1a1a1a" stroke-width="1.2"/>
<text x="385.20" y="380.20" font-size="8.5" text-anchor="middle" font-weight="bold">****</text>
<text x="306.80" y="419.50" font-size="11.0" font-weight="bold" text-anchor="middle" textLength="49" lengthAdjust="spacingAndGlyphs" transform="rotate(-90 306.80 419.50)" fill="#1a1a1a"><tspan>CD11b</tspan><tspan font-size="6.60" dy="-3.96">+</tspan><tspan dy="3.96">Ly6G</tspan><tspan font-size="6.60" dy="-3.96">-</tspan><tspan dy="3.96">+</tspan></text>
<text x="320.60" y="419.50" font-size="11.0" font-weight="bold" text-anchor="middle" textLength="54" lengthAdjust="spacingAndGlyphs" transform="rotate(-90 320.60 419.50)" fill="#1a1a1a"><tspan>neutrophils (%)</tspan></text>
<text x="8.00" y="519.60" font-size="13.8" font-weight="bold" fill="#000" style="stroke:#000;stroke-width:0.35px">I</text>
<text x="52.60" y="540.80" font-size="9.2" text-anchor="middle" textLength="79.1" lengthAdjust="spacingAndGlyphs">PBL pre-bleed from</text>
<text x="52.60" y="552.35" font-size="9.2" text-anchor="middle" textLength="87.3" lengthAdjust="spacingAndGlyphs">male and female mice</text>
<text x="52.60" y="563.90" font-size="9.2" text-anchor="middle" textLength="89" lengthAdjust="spacingAndGlyphs">and analyze neutrophil</text>
<text x="52.60" y="575.45" font-size="9.2" text-anchor="middle" textLength="39.9" lengthAdjust="spacingAndGlyphs">frequency</text>
<line x1="108.00" y1="554.50" x2="138.00" y2="554.50" stroke="#1a1a1a" stroke-width="1.2"/>
<path d="M136 551.8 L143 554.5 L136 557.2 Z" fill="#1a1a1a"/>
<text x="185.20" y="541.40" font-size="9.2" text-anchor="middle" textLength="44.4" lengthAdjust="spacingAndGlyphs">5mg/kg i.p.</text>
<text x="185.20" y="552.70" font-size="9.2" text-anchor="middle" textLength="53" lengthAdjust="spacingAndGlyphs">LPS injection</text>
<text x="185.20" y="564.00" font-size="9.2" text-anchor="middle" textLength="62.8" lengthAdjust="spacingAndGlyphs">and follow mice</text>
<text x="185.20" y="575.30" font-size="9.2" text-anchor="middle" textLength="43.2" lengthAdjust="spacingAndGlyphs">for Survival</text>
<line x1="227.50" y1="555.00" x2="252.50" y2="555.00" stroke="#1a1a1a" stroke-width="1.2"/>
<path d="M250.5 552.3 L257.5 555 L250.5 557.7 Z" fill="#1a1a1a"/>
<text x="299.80" y="535.00" font-size="9.2" text-anchor="middle" textLength="60.5" lengthAdjust="spacingAndGlyphs">Sort Neutrophil</text>
<text x="299.80" y="546.30" font-size="9.2" text-anchor="middle" textLength="57" lengthAdjust="spacingAndGlyphs">data based on</text>
<text x="299.80" y="557.60" font-size="9.2" text-anchor="middle" textLength="53" lengthAdjust="spacingAndGlyphs">1) sex and 2)</text>
<text x="299.80" y="568.90" font-size="9.2" text-anchor="middle" textLength="36.8" lengthAdjust="spacingAndGlyphs">mice that</text>
<text x="299.80" y="580.20" font-size="9.2" text-anchor="middle" textLength="63.2" lengthAdjust="spacingAndGlyphs">survived or died</text>
<text x="177.00" y="616.20" font-size="9.2" text-anchor="middle" textLength="108.3" lengthAdjust="spacingAndGlyphs">LPS treated mice - tracking</text>
<line x1="110.80" y1="622.00" x2="243.00" y2="622.00" stroke="#1a1a1a" stroke-width="1.3"/>
<text x="106.40" y="633.60" font-size="9.2" textLength="55.2" lengthAdjust="spacingAndGlyphs">male (n = 84)</text>
<line x1="164.90" y1="631.00" x2="171.80" y2="631.00" stroke="#1a1a1a" stroke-width="0.9"/>
<path d="M170.60 629.10 L173.80 631.00 L170.60 632.90" fill="none" stroke="#1a1a1a" stroke-width="0.9"/>
<text x="176.70" y="633.60" font-size="9.2" textLength="71.5" lengthAdjust="spacingAndGlyphs">46 dead, 38 alive</text>
<text x="103.60" y="644.70" font-size="9.2" textLength="61.5" lengthAdjust="spacingAndGlyphs">female (n = 85)</text>
<line x1="168.75" y1="642.10" x2="175.30" y2="642.10" stroke="#1a1a1a" stroke-width="0.9"/>
<path d="M174.10 640.20 L177.30 642.10 L174.10 644.00" fill="none" stroke="#1a1a1a" stroke-width="0.9"/>
<text x="180.40" y="644.70" font-size="9.2" textLength="70.5" lengthAdjust="spacingAndGlyphs">56 dead, 29 alive</text>
<text x="359.60" y="519.70" font-size="13.8" font-weight="bold" fill="#000" style="stroke:#000;stroke-width:0.35px">J</text>
<line x1="417.50" y1="529.00" x2="417.50" y2="626.60" stroke="#1a1a1a" stroke-width="1.3"/>
<line x1="416.90" y1="626.00" x2="511.80" y2="626.00" stroke="#1a1a1a" stroke-width="1.3"/>
<line x1="414.30" y1="626.00" x2="417.50" y2="626.00" stroke="#1a1a1a" stroke-width="1.1"/>
<text x="411.00" y="629.00" font-size="8.6" text-anchor="end" textLength="5.6" lengthAdjust="spacingAndGlyphs">0</text>
<line x1="414.30" y1="607.20" x2="417.50" y2="607.20" stroke="#1a1a1a" stroke-width="1.1"/>
<text x="411.00" y="610.20" font-size="8.6" text-anchor="end" textLength="11.2" lengthAdjust="spacingAndGlyphs">20</text>
<line x1="414.30" y1="588.40" x2="417.50" y2="588.40" stroke="#1a1a1a" stroke-width="1.1"/>
<text x="411.00" y="591.40" font-size="8.6" text-anchor="end" textLength="11.2" lengthAdjust="spacingAndGlyphs">40</text>
<line x1="414.30" y1="569.60" x2="417.50" y2="569.60" stroke="#1a1a1a" stroke-width="1.1"/>
<text x="411.00" y="572.60" font-size="8.6" text-anchor="end" textLength="11.2" lengthAdjust="spacingAndGlyphs">60</text>
<line x1="414.30" y1="550.80" x2="417.50" y2="550.80" stroke="#1a1a1a" stroke-width="1.1"/>
<text x="411.00" y="553.80" font-size="8.6" text-anchor="end" textLength="11.2" lengthAdjust="spacingAndGlyphs">80</text>
<line x1="414.30" y1="532.00" x2="417.50" y2="532.00" stroke="#1a1a1a" stroke-width="1.1"/>
<text x="411.00" y="535.00" font-size="8.6" text-anchor="end" textLength="16.799999999999997" lengthAdjust="spacingAndGlyphs">100</text>
<line x1="415.50" y1="616.60" x2="417.50" y2="616.60" stroke="#1a1a1a" stroke-width="0.9"/>
<line x1="415.50" y1="597.80" x2="417.50" y2="597.80" stroke="#1a1a1a" stroke-width="0.9"/>
<line x1="415.50" y1="579.00" x2="417.50" y2="579.00" stroke="#1a1a1a" stroke-width="0.9"/>
<line x1="415.50" y1="560.20" x2="417.50" y2="560.20" stroke="#1a1a1a" stroke-width="0.9"/>
<line x1="415.50" y1="541.40" x2="417.50" y2="541.40" stroke="#1a1a1a" stroke-width="0.9"/>
<line x1="432.00" y1="626.00" x2="432.00" y2="629.00" stroke="#1a1a1a" stroke-width="1.1"/>
<line x1="453.80" y1="626.00" x2="453.80" y2="629.00" stroke="#1a1a1a" stroke-width="1.1"/>
<line x1="475.40" y1="626.00" x2="475.40" y2="629.00" stroke="#1a1a1a" stroke-width="1.1"/>
<line x1="497.50" y1="626.00" x2="497.50" y2="629.00" stroke="#1a1a1a" stroke-width="1.1"/>
<line x1="424.50" y1="599.49" x2="439.50" y2="599.49" stroke="#222" stroke-width="1.2"/>
<line x1="446.30" y1="595.45" x2="461.30" y2="595.45" stroke="#222" stroke-width="1.2"/>
<line x1="467.90" y1="616.04" x2="482.90" y2="616.04" stroke="#222" stroke-width="1.1"/>
<line x1="490.50" y1="616.60" x2="504.50" y2="616.60" stroke="#2a4a6a" stroke-width="0.8"/>
<circle cx="432.00" cy="552.21" r="2.00" fill="#CF1034" stroke="#AE0C2B" stroke-width="0.5"/>
<circle cx="432.00" cy="555.97" r="2.00" fill="#CF1034" stroke="#AE0C2B" stroke-width="0.5"/>
<circle cx="432.00" cy="559.73" r="2.00" fill="#CF1034" stroke="#AE0C2B" stroke-width="0.5"/>
<circle cx="432.50" cy="565.84" r="2.00" fill="#CF1034" stroke="#AE0C2B" stroke-width="0.5"/>
<circle cx="430.80" cy="569.13" r="2.00" fill="#CF1034" stroke="#AE0C2B" stroke-width="0.5"/>
<circle cx="432.80" cy="571.95" r="2.00" fill="#CF1034" stroke="#AE0C2B" stroke-width="0.5"/>
<circle cx="432.00" cy="582.76" r="2.00" fill="#CF1034" stroke="#AE0C2B" stroke-width="0.5"/>
<circle cx="430.00" cy="589.81" r="2.00" fill="#CF1034" stroke="#AE0C2B" stroke-width="0.5"/>
<circle cx="427.41" cy="602.48" r="2.00" fill="#CF1034" stroke="#AE0C2B" stroke-width="0.5"/>
<circle cx="430.31" cy="625.97" r="2.00" fill="#CF1034" stroke="#AE0C2B" stroke-width="0.5"/>
<circle cx="429.81" cy="593.12" r="2.00" fill="#CF1034" stroke="#AE0C2B" stroke-width="0.5"/>
<circle cx="435.34" cy="615.28" r="2.00" fill="#CF1034" stroke="#AE0C2B" stroke-width="0.5"/>
<circle cx="428.47" cy="617.68" r="2.00" fill="#CF1034" stroke="#AE0C2B" stroke-width="0.5"/>
<circle cx="433.42" cy="603.31" r="2.00" fill="#CF1034" stroke="#AE0C2B" stroke-width="0.5"/>
<circle cx="434.88" cy="597.82" r="2.00" fill="#CF1034" stroke="#AE0C2B" stroke-width="0.5"/>
<circle cx="436.99" cy="606.42" r="2.00" fill="#CF1034" stroke="#AE0C2B" stroke-width="0.5"/>
<circle cx="428.27" cy="614.31" r="2.00" fill="#CF1034" stroke="#AE0C2B" stroke-width="0.5"/>
<circle cx="432.10" cy="599.80" r="2.00" fill="#CF1034" stroke="#AE0C2B" stroke-width="0.5"/>
<circle cx="429.50" cy="604.88" r="2.00" fill="#CF1034" stroke="#AE0C2B" stroke-width="0.5"/>
<circle cx="429.83" cy="610.89" r="2.00" fill="#CF1034" stroke="#AE0C2B" stroke-width="0.5"/>
<circle cx="428.70" cy="620.95" r="2.00" fill="#CF1034" stroke="#AE0C2B" stroke-width="0.5"/>
<circle cx="432.04" cy="607.63" r="2.00" fill="#CF1034" stroke="#AE0C2B" stroke-width="0.5"/>
<circle cx="433.33" cy="612.13" r="2.00" fill="#CF1034" stroke="#AE0C2B" stroke-width="0.5"/>
<circle cx="435.26" cy="600.91" r="2.00" fill="#CF1034" stroke="#AE0C2B" stroke-width="0.5"/>
<circle cx="435.72" cy="609.65" r="2.00" fill="#CF1034" stroke="#AE0C2B" stroke-width="0.5"/>
<circle cx="432.80" cy="617.10" r="2.00" fill="#CF1034" stroke="#AE0C2B" stroke-width="0.5"/>
<circle cx="431.53" cy="622.63" r="2.00" fill="#CF1034" stroke="#AE0C2B" stroke-width="0.5"/>
<circle cx="433.95" cy="593.37" r="2.00" fill="#CF1034" stroke="#AE0C2B" stroke-width="0.5"/>
<circle cx="428.40" cy="597.82" r="2.00" fill="#CF1034" stroke="#AE0C2B" stroke-width="0.5"/>
<circle cx="427.30" cy="607.93" r="2.00" fill="#CF1034" stroke="#AE0C2B" stroke-width="0.5"/>
<circle cx="436.04" cy="621.40" r="2.00" fill="#CF1034" stroke="#AE0C2B" stroke-width="0.5"/>
<circle cx="434.37" cy="625.38" r="2.00" fill="#CF1034" stroke="#AE0C2B" stroke-width="0.5"/>
<circle cx="431.72" cy="596.42" r="2.00" fill="#CF1034" stroke="#AE0C2B" stroke-width="0.5"/>
<circle cx="437.28" cy="612.52" r="2.00" fill="#CF1034" stroke="#AE0C2B" stroke-width="0.5"/>
<circle cx="436.71" cy="618.22" r="2.00" fill="#CF1034" stroke="#AE0C2B" stroke-width="0.5"/>
<circle cx="426.71" cy="611.49" r="2.00" fill="#CF1034" stroke="#AE0C2B" stroke-width="0.5"/>
<circle cx="453.80" cy="555.03" r="2.15" fill="#fff" fill-opacity="0.3" stroke="#CF1034" stroke-width="0.9"/>
<circle cx="453.80" cy="567.72" r="2.15" fill="#fff" fill-opacity="0.3" stroke="#CF1034" stroke-width="0.9"/>
<circle cx="454.07" cy="617.98" r="2.15" fill="#fff" fill-opacity="0.3" stroke="#CF1034" stroke-width="0.9"/>
<circle cx="455.58" cy="589.07" r="2.15" fill="#fff" fill-opacity="0.3" stroke="#CF1034" stroke-width="0.9"/>
<circle cx="452.63" cy="604.52" r="2.15" fill="#fff" fill-opacity="0.3" stroke="#CF1034" stroke-width="0.9"/>
<circle cx="451.13" cy="601.26" r="2.15" fill="#fff" fill-opacity="0.3" stroke="#CF1034" stroke-width="0.9"/>
<circle cx="456.55" cy="609.50" r="2.15" fill="#fff" fill-opacity="0.3" stroke="#CF1034" stroke-width="0.9"/>
<circle cx="451.17" cy="575.76" r="2.15" fill="#fff" fill-opacity="0.3" stroke="#CF1034" stroke-width="0.9"/>
<circle cx="452.33" cy="591.08" r="2.15" fill="#fff" fill-opacity="0.3" stroke="#CF1034" stroke-width="0.9"/>
<circle cx="450.19" cy="614.04" r="2.15" fill="#fff" fill-opacity="0.3" stroke="#CF1034" stroke-width="0.9"/>
<circle cx="453.38" cy="578.37" r="2.15" fill="#fff" fill-opacity="0.3" stroke="#CF1034" stroke-width="0.9"/>
<circle cx="457.98" cy="594.41" r="2.15" fill="#fff" fill-opacity="0.3" stroke="#CF1034" stroke-width="0.9"/>
<circle cx="453.79" cy="582.49" r="2.15" fill="#fff" fill-opacity="0.3" stroke="#CF1034" stroke-width="0.9"/>
<circle cx="458.53" cy="586.03" r="2.15" fill="#fff" fill-opacity="0.3" stroke="#CF1034" stroke-width="0.9"/>
<circle cx="450.41" cy="584.02" r="2.15" fill="#fff" fill-opacity="0.3" stroke="#CF1034" stroke-width="0.9"/>
<circle cx="456.20" cy="600.82" r="2.15" fill="#fff" fill-opacity="0.3" stroke="#CF1034" stroke-width="0.9"/>
<circle cx="453.78" cy="607.75" r="2.15" fill="#fff" fill-opacity="0.3" stroke="#CF1034" stroke-width="0.9"/>
<circle cx="456.61" cy="579.59" r="2.15" fill="#fff" fill-opacity="0.3" stroke="#CF1034" stroke-width="0.9"/>
<circle cx="450.81" cy="588.07" r="2.15" fill="#fff" fill-opacity="0.3" stroke="#CF1034" stroke-width="0.9"/>
<circle cx="449.34" cy="598.01" r="2.15" fill="#fff" fill-opacity="0.3" stroke="#CF1034" stroke-width="0.9"/>
<circle cx="454.10" cy="572.90" r="2.15" fill="#fff" fill-opacity="0.3" stroke="#CF1034" stroke-width="0.9"/>
<circle cx="454.32" cy="612.76" r="2.15" fill="#fff" fill-opacity="0.3" stroke="#CF1034" stroke-width="0.9"/>
<circle cx="456.21" cy="604.38" r="2.15" fill="#fff" fill-opacity="0.3" stroke="#CF1034" stroke-width="0.9"/>
<circle cx="458.65" cy="614.54" r="2.15" fill="#fff" fill-opacity="0.3" stroke="#CF1034" stroke-width="0.9"/>
<circle cx="452.69" cy="595.52" r="2.15" fill="#fff" fill-opacity="0.3" stroke="#CF1034" stroke-width="0.9"/>
<circle cx="449.78" cy="609.85" r="2.15" fill="#fff" fill-opacity="0.3" stroke="#CF1034" stroke-width="0.9"/>
<circle cx="450.85" cy="617.26" r="2.15" fill="#fff" fill-opacity="0.3" stroke="#CF1034" stroke-width="0.9"/>
<circle cx="449.05" cy="605.06" r="2.15" fill="#fff" fill-opacity="0.3" stroke="#CF1034" stroke-width="0.9"/>
<circle cx="455.26" cy="585.73" r="2.15" fill="#fff" fill-opacity="0.3" stroke="#CF1034" stroke-width="0.9"/>
<circle cx="451.07" cy="580.71" r="2.15" fill="#fff" fill-opacity="0.3" stroke="#CF1034" stroke-width="0.9"/>
<circle cx="457.04" cy="582.80" r="2.15" fill="#fff" fill-opacity="0.3" stroke="#CF1034" stroke-width="0.9"/>
<circle cx="455.21" cy="592.50" r="2.15" fill="#fff" fill-opacity="0.3" stroke="#CF1034" stroke-width="0.9"/>
<circle cx="449.50" cy="592.80" r="2.15" fill="#fff" fill-opacity="0.3" stroke="#CF1034" stroke-width="0.9"/>
<circle cx="457.95" cy="597.74" r="2.15" fill="#fff" fill-opacity="0.3" stroke="#CF1034" stroke-width="0.9"/>
<circle cx="455.97" cy="576.00" r="2.15" fill="#fff" fill-opacity="0.3" stroke="#CF1034" stroke-width="0.9"/>
<circle cx="458.70" cy="606.89" r="2.15" fill="#fff" fill-opacity="0.3" stroke="#CF1034" stroke-width="0.9"/>
<rect x="472.03" y="615.24" width="3.90" height="3.90" fill="#17599A" stroke="#0F4579" stroke-width="0.5"/>
<rect x="470.59" y="620.19" width="3.90" height="3.90" fill="#17599A" stroke="#0F4579" stroke-width="0.5"/>
<rect x="473.11" y="618.24" width="3.90" height="3.90" fill="#17599A" stroke="#0F4579" stroke-width="0.5"/>
<rect x="477.78" y="615.81" width="3.90" height="3.90" fill="#17599A" stroke="#0F4579" stroke-width="0.5"/>
<rect x="473.56" y="598.14" width="3.90" height="3.90" fill="#17599A" stroke="#0F4579" stroke-width="0.5"/>
<rect x="473.41" y="594.83" width="3.90" height="3.90" fill="#17599A" stroke="#0F4579" stroke-width="0.5"/>
<rect x="475.45" y="614.80" width="3.90" height="3.90" fill="#17599A" stroke="#0F4579" stroke-width="0.5"/>
<rect x="469.22" y="615.97" width="3.90" height="3.90" fill="#17599A" stroke="#0F4579" stroke-width="0.5"/>
<rect x="473.67" y="592.10" width="3.90" height="3.90" fill="#17599A" stroke="#0F4579" stroke-width="0.5"/>
<rect x="473.45" y="605.51" width="3.90" height="3.90" fill="#17599A" stroke="#0F4579" stroke-width="0.5"/>
<rect x="474.03" y="610.59" width="3.90" height="3.90" fill="#17599A" stroke="#0F4579" stroke-width="0.5"/>
<rect x="473.39" y="601.01" width="3.90" height="3.90" fill="#17599A" stroke="#0F4579" stroke-width="0.5"/>
<rect x="469.93" y="617.85" width="3.90" height="3.90" fill="#17599A" stroke="#0F4579" stroke-width="0.5"/>
<rect x="470.67" y="612.31" width="3.90" height="3.90" fill="#17599A" stroke="#0F4579" stroke-width="0.5"/>
<rect x="475.40" y="621.02" width="3.90" height="3.90" fill="#17599A" stroke="#0F4579" stroke-width="0.5"/>
<rect x="477.89" y="619.79" width="3.90" height="3.90" fill="#17599A" stroke="#0F4579" stroke-width="0.5"/>
<rect x="474.26" y="616.56" width="3.90" height="3.90" fill="#17599A" stroke="#0F4579" stroke-width="0.5"/>
<rect x="478.24" y="613.30" width="3.90" height="3.90" fill="#17599A" stroke="#0F4579" stroke-width="0.5"/>
<rect x="476.24" y="611.60" width="3.90" height="3.90" fill="#17599A" stroke="#0F4579" stroke-width="0.5"/>
<rect x="473.52" y="613.45" width="3.90" height="3.90" fill="#17599A" stroke="#0F4579" stroke-width="0.5"/>
<rect x="468.69" y="621.42" width="3.90" height="3.90" fill="#17599A" stroke="#0F4579" stroke-width="0.5"/>
<rect x="472.52" y="621.00" width="3.90" height="3.90" fill="#17599A" stroke="#0F4579" stroke-width="0.5"/>
<rect x="473.07" y="608.37" width="3.90" height="3.90" fill="#17599A" stroke="#0F4579" stroke-width="0.5"/>
<rect x="475.05" y="618.84" width="3.90" height="3.90" fill="#17599A" stroke="#0F4579" stroke-width="0.5"/>
<rect x="473.89" y="603.48" width="3.90" height="3.90" fill="#17599A" stroke="#0F4579" stroke-width="0.5"/>
<rect x="471.89" y="610.37" width="3.90" height="3.90" fill="#17599A" stroke="#0F4579" stroke-width="0.5"/>
<rect x="468.81" y="613.64" width="3.90" height="3.90" fill="#17599A" stroke="#0F4579" stroke-width="0.5"/>
<rect x="476.36" y="617.25" width="3.90" height="3.90" fill="#17599A" stroke="#0F4579" stroke-width="0.5"/>
<rect x="477.27" y="622.09" width="3.90" height="3.90" fill="#17599A" stroke="#0F4579" stroke-width="0.5"/>
<rect x="491.12" y="619.20" width="4.40" height="4.40" fill="#fff" fill-opacity="0.3" stroke="#17599A" stroke-width="0.9"/>
<rect x="494.98" y="609.36" width="4.40" height="4.40" fill="#fff" fill-opacity="0.3" stroke="#17599A" stroke-width="0.9"/>
<rect x="493.48" y="620.45" width="4.40" height="4.40" fill="#fff" fill-opacity="0.3" stroke="#17599A" stroke-width="0.9"/>
<rect x="495.45" y="612.29" width="4.40" height="4.40" fill="#fff" fill-opacity="0.3" stroke="#17599A" stroke-width="0.9"/>
<rect x="500.06" y="610.69" width="4.40" height="4.40" fill="#fff" fill-opacity="0.3" stroke="#17599A" stroke-width="0.9"/>
<rect x="500.49" y="619.46" width="4.40" height="4.40" fill="#fff" fill-opacity="0.3" stroke="#17599A" stroke-width="0.9"/>
<rect x="496.02" y="619.21" width="4.40" height="4.40" fill="#fff" fill-opacity="0.3" stroke="#17599A" stroke-width="0.9"/>
<rect x="493.39" y="616.81" width="4.40" height="4.40" fill="#fff" fill-opacity="0.3" stroke="#17599A" stroke-width="0.9"/>
<rect x="492.61" y="611.52" width="4.40" height="4.40" fill="#fff" fill-opacity="0.3" stroke="#17599A" stroke-width="0.9"/>
<rect x="496.50" y="605.00" width="4.40" height="4.40" fill="#fff" fill-opacity="0.3" stroke="#17599A" stroke-width="0.9"/>
<rect x="497.50" y="615.34" width="4.40" height="4.40" fill="#fff" fill-opacity="0.3" stroke="#17599A" stroke-width="0.9"/>
<rect x="499.69" y="616.75" width="4.40" height="4.40" fill="#fff" fill-opacity="0.3" stroke="#17599A" stroke-width="0.9"/>
<rect x="491.57" y="614.08" width="4.40" height="4.40" fill="#fff" fill-opacity="0.3" stroke="#17599A" stroke-width="0.9"/>
<rect x="494.45" y="606.56" width="4.40" height="4.40" fill="#fff" fill-opacity="0.3" stroke="#17599A" stroke-width="0.9"/>
<rect x="498.30" y="608.78" width="4.40" height="4.40" fill="#fff" fill-opacity="0.3" stroke="#17599A" stroke-width="0.9"/>
<rect x="498.95" y="613.32" width="4.40" height="4.40" fill="#fff" fill-opacity="0.3" stroke="#17599A" stroke-width="0.9"/>
<rect x="497.94" y="621.78" width="4.40" height="4.40" fill="#fff" fill-opacity="0.3" stroke="#17599A" stroke-width="0.9"/>
<rect x="490.26" y="616.72" width="4.40" height="4.40" fill="#fff" fill-opacity="0.3" stroke="#17599A" stroke-width="0.9"/>
<rect x="494.57" y="603.50" width="4.40" height="4.40" fill="#fff" fill-opacity="0.3" stroke="#17599A" stroke-width="0.9"/>
<rect x="492.07" y="608.89" width="4.40" height="4.40" fill="#fff" fill-opacity="0.3" stroke="#17599A" stroke-width="0.9"/>
<rect x="495.10" y="615.06" width="4.40" height="4.40" fill="#fff" fill-opacity="0.3" stroke="#17599A" stroke-width="0.9"/>
<rect x="497.69" y="611.17" width="4.40" height="4.40" fill="#fff" fill-opacity="0.3" stroke="#17599A" stroke-width="0.9"/>
<rect x="495.53" y="621.89" width="4.40" height="4.40" fill="#fff" fill-opacity="0.3" stroke="#17599A" stroke-width="0.9"/>
<line x1="425.40" y1="538.30" x2="461.00" y2="538.30" stroke="#1a1a1a" stroke-width="1.2"/>
<text x="443.20" y="535.80" font-size="9.5" text-anchor="middle" textLength="9.5" lengthAdjust="spacingAndGlyphs">ns</text>
<line x1="468.00" y1="578.70" x2="503.80" y2="578.70" stroke="#1a1a1a" stroke-width="1.2"/>
<text x="485.90" y="576.70" font-size="9.5" text-anchor="middle" textLength="9.5" lengthAdjust="spacingAndGlyphs">ns</text>
<text x="373.40" y="576.10" font-size="9.4" font-weight="bold" text-anchor="middle" textLength="48.5" lengthAdjust="spacingAndGlyphs" transform="rotate(-90 373.40 576.10)" fill="#1a1a1a"><tspan>CD11b</tspan><tspan font-size="5.64" dy="-3.38">+</tspan><tspan dy="3.38">Ly6G</tspan><tspan font-size="5.64" dy="-3.38">-</tspan><tspan dy="3.38">+</tspan></text>
<text x="386.40" y="575.60" font-size="10.2" font-weight="bold" text-anchor="middle" textLength="54.5" lengthAdjust="spacingAndGlyphs" transform="rotate(-90 386.40 575.60)" fill="#1a1a1a"><tspan>Neutrophils (%)</tspan></text>
<text x="435.20" y="636.00" font-size="10" text-anchor="end" textLength="22" lengthAdjust="spacingAndGlyphs" transform="rotate(-45 435.20 636.00)">Dead</text>
<text x="457.00" y="636.00" font-size="10" text-anchor="end" textLength="20" lengthAdjust="spacingAndGlyphs" transform="rotate(-45 457.00 636.00)">Alive</text>
<text x="478.60" y="636.00" font-size="10" text-anchor="end" textLength="22" lengthAdjust="spacingAndGlyphs" transform="rotate(-45 478.60 636.00)">Dead</text>
<text x="500.70" y="636.00" font-size="10" text-anchor="end" textLength="20" lengthAdjust="spacingAndGlyphs" transform="rotate(-45 500.70 636.00)">Alive</text>
<line x1="409.20" y1="657.30" x2="444.30" y2="657.30" stroke="#1a1a1a" stroke-width="1.3"/>
<line x1="467.00" y1="657.30" x2="501.50" y2="657.30" stroke="#1a1a1a" stroke-width="1.3"/>
<text x="427.20" y="668.80" font-size="9.2" text-anchor="middle" textLength="18.5" lengthAdjust="spacingAndGlyphs">male</text>
<text x="480.90" y="668.80" font-size="9.2" text-anchor="middle" textLength="25.7" lengthAdjust="spacingAndGlyphs">female</text>
</svg>
</body></html>
